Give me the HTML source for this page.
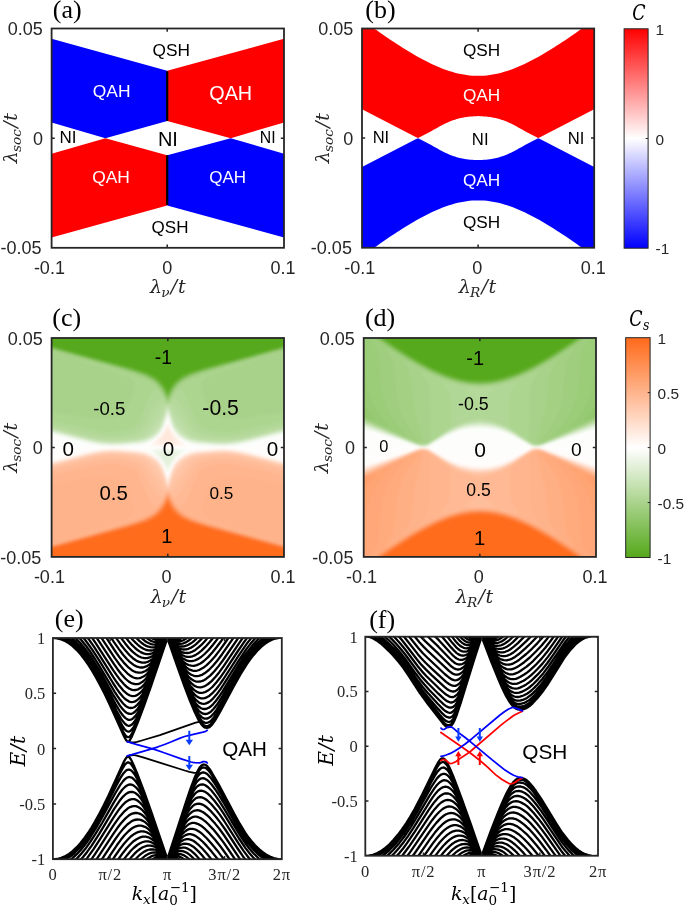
<!DOCTYPE html>
<html lang="en"><head><meta charset="utf-8"><title>Phase diagrams and band structures</title>
<style>html,body{margin:0;padding:0;background:#fff}svg{display:block}</style></head>
<body>
<svg width="685" height="906" viewBox="0 0 685 906">
<defs>
<linearGradient id="gC" x1="0" y1="0" x2="0" y2="1"><stop offset="0" stop-color="#ff0000"/><stop offset="0.5" stop-color="#ffffff"/><stop offset="1" stop-color="#0000ff"/></linearGradient>
<linearGradient id="gS" x1="0" y1="0" x2="0" y2="1"><stop offset="0" stop-color="#ff6a1a"/><stop offset="0.5" stop-color="#ffffff"/><stop offset="1" stop-color="#55a81a"/></linearGradient>
</defs>
<rect width="685" height="906" fill="#fff"/>
<polygon points="51.6,38.75 167.2,70.85 167.2,120.95 105.4,138.15 51.6,122.45" fill="#0000ff"/>
<polygon points="284,38.75 167.2,70.85 167.2,120.95 230.7,138.15 284,122.45" fill="#ff0000"/>
<polygon points="51.6,237.55 167.2,205.45 167.2,155.35 105.4,138.15 51.6,153.85" fill="#ff0000"/>
<polygon points="284,237.55 167.2,205.45 167.2,155.35 230.7,138.15 284,153.85" fill="#0000ff"/>
<path d="M167.2 71.35V120.95M167.2 155.35V204.95" stroke="#000" stroke-width="2.2" fill="none"/>
<rect x="51.6" y="28.5" width="232.4" height="219.3" fill="none" stroke="#262626" stroke-width="1.8"/>
<path d="M167.2 247.8v-3.2M167.2 28.5v3.2M51.6 138.15h3.2M284 138.15h-3.2" stroke="#262626" stroke-width="1.5" fill="none"/>
<text x="171.2" y="55.8" font-size="17.3" text-anchor="middle" font-family="'Liberation Sans', Arial, Helvetica, sans-serif" fill="#000">QSH</text>
<text x="170" y="233.4" font-size="17" text-anchor="middle" font-family="'Liberation Sans', Arial, Helvetica, sans-serif" fill="#000">QSH</text>
<text x="111.6" y="97.3" font-size="17.4" text-anchor="middle" font-family="'Liberation Sans', Arial, Helvetica, sans-serif" fill="#fff">QAH</text>
<text x="230.7" y="99.7" font-size="19.8" text-anchor="middle" font-family="'Liberation Sans', Arial, Helvetica, sans-serif" fill="#fff">QAH</text>
<text x="111" y="183" font-size="17.4" text-anchor="middle" font-family="'Liberation Sans', Arial, Helvetica, sans-serif" fill="#fff">QAH</text>
<text x="227.6" y="183" font-size="17" text-anchor="middle" font-family="'Liberation Sans', Arial, Helvetica, sans-serif" fill="#fff">QAH</text>
<text x="67.9" y="142.9" font-size="17" text-anchor="middle" font-family="'Liberation Sans', Arial, Helvetica, sans-serif" fill="#000">NI</text>
<text x="167.9" y="146" font-size="20" text-anchor="middle" font-family="'Liberation Sans', Arial, Helvetica, sans-serif" fill="#000">NI</text>
<text x="267.7" y="142.5" font-size="15.8" text-anchor="middle" font-family="'Liberation Sans', Arial, Helvetica, sans-serif" fill="#000">NI</text>
<text x="42.9" y="35.4" font-size="18" text-anchor="end" font-family="'Liberation Sans', Arial, Helvetica, sans-serif" fill="#262626">0.05</text>
<text x="42.9" y="145.15" font-size="18" text-anchor="end" font-family="'Liberation Sans', Arial, Helvetica, sans-serif" fill="#262626">0</text>
<text x="41.6" y="254.4" font-size="18" text-anchor="end" font-family="'Liberation Sans', Arial, Helvetica, sans-serif" fill="#262626">-0.05</text>
<text x="49.4" y="273.6" font-size="18" text-anchor="middle" font-family="'Liberation Sans', Arial, Helvetica, sans-serif" fill="#262626">-0.1</text>
<text x="167.2" y="273.6" font-size="18" text-anchor="middle" font-family="'Liberation Sans', Arial, Helvetica, sans-serif" fill="#262626">0</text>
<text x="283" y="273.6" font-size="18" text-anchor="middle" font-family="'Liberation Sans', Arial, Helvetica, sans-serif" fill="#262626">0.1</text>
<text x="167.8" y="293.2" font-size="19" text-anchor="middle" font-family="'DejaVu Serif', 'Liberation Serif', serif" font-style="italic" fill="#262626">λ<tspan font-size="13.68" dy="3.9" dx="-0.9">ν</tspan><tspan dy="-3.9" dx="1.3">/</tspan><tspan dx="0.7">t</tspan></text>
<text transform="translate(17.1 138.15) rotate(-90)" font-size="19" text-anchor="middle" font-family="'DejaVu Serif', 'Liberation Serif', serif" font-style="italic" fill="#262626">λ<tspan font-size="13.68" dy="3.9" dx="-0.9">soc</tspan><tspan dy="-3.9" dx="1.3">/</tspan><tspan dx="0.7">t</tspan></text>
<text x="52.8" y="18" font-size="26" text-anchor="start" font-family="'Liberation Serif', 'Times New Roman', serif" fill="#000">(a)</text>
<polygon points="362,28.5 364.9,28.5 367.81,28.5 370.71,28.5 373.61,28.5 376.51,30.12 379.42,32.17 382.32,34.2 385.22,36.21 388.12,38.19 391.02,40.15 393.93,42.08 396.83,43.99 399.73,45.87 402.63,47.71 405.54,49.52 408.44,51.3 411.34,53.04 414.25,54.73 417.15,56.39 420.05,58 422.95,59.56 425.86,61.07 428.76,62.53 431.66,63.93 434.56,65.27 437.47,66.55 440.37,67.76 443.27,68.9 446.17,69.96 449.07,70.95 451.98,71.85 454.88,72.67 457.78,73.4 460.69,74.05 463.59,74.59 466.49,75.05 469.39,75.4 472.3,75.65 475.2,75.81 478.1,75.86 481,75.81 483.91,75.65 486.81,75.4 489.71,75.05 492.61,74.59 495.52,74.05 498.42,73.4 501.32,72.67 504.22,71.85 507.12,70.95 510.03,69.96 512.93,68.9 515.83,67.76 518.74,66.55 521.64,65.27 524.54,63.93 527.44,62.53 530.35,61.07 533.25,59.56 536.15,58 539.05,56.39 541.96,54.73 544.86,53.04 547.76,51.3 550.66,49.52 553.57,47.71 556.47,45.87 559.37,43.99 562.27,42.08 565.18,40.15 568.08,38.19 570.98,36.21 573.88,34.2 576.79,32.17 579.69,30.12 582.59,28.5 585.49,28.5 588.39,28.5 591.3,28.5 594.2,28.5 594.2,109.12 592.27,110.13 590.33,111.13 588.4,112.13 586.46,113.13 584.53,114.14 582.59,115.14 580.66,116.14 578.72,117.14 576.79,118.14 574.85,119.15 572.92,120.15 570.98,121.15 569.05,122.15 567.11,123.15 565.18,124.16 563.24,125.16 561.31,126.16 559.37,127.16 557.44,128.16 555.5,129.17 553.57,130.17 551.63,131.17 549.7,132.17 547.76,133.17 545.83,134.18 543.89,135.18 541.96,136.18 540.02,137.18 538.09,138.07 536.15,137.08 534.22,136.09 532.28,135.08 530.35,134.06 528.41,133.01 526.48,131.95 524.54,130.88 522.61,129.81 520.67,128.75 518.74,127.65 516.8,126.54 514.87,125.46 512.93,124.43 511,123.48 509.06,122.63 507.12,121.81 505.19,121.03 503.26,120.3 501.32,119.64 499.39,119.06 497.45,118.56 495.52,118.1 493.58,117.68 491.65,117.3 489.71,116.99 487.78,116.75 485.84,116.57 483.91,116.4 481.97,116.26 480.04,116.17 478.1,116.12 476.17,116.17 474.23,116.26 472.3,116.4 470.36,116.57 468.43,116.75 466.49,116.99 464.56,117.3 462.62,117.68 460.69,118.1 458.75,118.56 456.82,119.06 454.88,119.64 452.95,120.3 451.01,121.03 449.08,121.81 447.14,122.63 445.21,123.48 443.27,124.43 441.34,125.46 439.4,126.54 437.47,127.65 435.53,128.75 433.6,129.81 431.66,130.88 429.73,131.95 427.79,133.01 425.86,134.06 423.92,135.08 421.99,136.09 420.05,137.08 418.12,138.07 416.18,137.18 414.25,136.18 412.31,135.18 410.38,134.18 408.44,133.17 406.5,132.17 404.57,131.17 402.63,130.17 400.7,129.17 398.76,128.16 396.83,127.16 394.89,126.16 392.96,125.16 391.02,124.16 389.09,123.15 387.16,122.15 385.22,121.15 383.29,120.15 381.35,119.15 379.42,118.14 377.48,117.14 375.55,116.14 373.61,115.14 371.68,114.14 369.74,113.13 367.81,112.13 365.87,111.13 363.94,110.13 362,109.12" fill="#ff0000"/>
<polygon points="362,247.75 364.9,247.75 367.81,247.75 370.71,247.75 373.61,247.75 376.51,246.13 379.42,244.08 382.32,242.05 385.22,240.04 388.12,238.06 391.02,236.1 393.93,234.17 396.83,232.26 399.73,230.38 402.63,228.54 405.54,226.73 408.44,224.95 411.34,223.21 414.25,221.52 417.15,219.86 420.05,218.25 422.95,216.69 425.86,215.18 428.76,213.72 431.66,212.32 434.56,210.98 437.47,209.7 440.37,208.49 443.27,207.35 446.17,206.29 449.07,205.3 451.98,204.4 454.88,203.58 457.78,202.85 460.69,202.2 463.59,201.66 466.49,201.2 469.39,200.85 472.3,200.6 475.2,200.44 478.1,200.39 481,200.44 483.91,200.6 486.81,200.85 489.71,201.2 492.61,201.66 495.52,202.2 498.42,202.85 501.32,203.58 504.22,204.4 507.12,205.3 510.03,206.29 512.93,207.35 515.83,208.49 518.74,209.7 521.64,210.98 524.54,212.32 527.44,213.72 530.35,215.18 533.25,216.69 536.15,218.25 539.05,219.86 541.96,221.52 544.86,223.21 547.76,224.95 550.66,226.73 553.57,228.54 556.47,230.38 559.37,232.26 562.27,234.17 565.18,236.1 568.08,238.06 570.98,240.04 573.88,242.05 576.79,244.08 579.69,246.13 582.59,247.75 585.49,247.75 588.39,247.75 591.3,247.75 594.2,247.75 594.2,167.12 592.27,166.12 590.33,165.12 588.4,164.12 586.46,163.12 584.53,162.11 582.59,161.11 580.66,160.11 578.72,159.11 576.79,158.11 574.85,157.1 572.92,156.1 570.98,155.1 569.05,154.1 567.11,153.1 565.18,152.09 563.24,151.09 561.31,150.09 559.37,149.09 557.44,148.09 555.5,147.08 553.57,146.08 551.63,145.08 549.7,144.08 547.76,143.08 545.83,142.07 543.89,141.07 541.96,140.07 540.02,139.07 538.09,138.18 536.15,139.17 534.22,140.16 532.28,141.17 530.35,142.19 528.41,143.24 526.48,144.3 524.54,145.37 522.61,146.44 520.67,147.5 518.74,148.6 516.8,149.71 514.87,150.79 512.93,151.82 511,152.77 509.06,153.62 507.12,154.44 505.19,155.22 503.26,155.95 501.32,156.61 499.39,157.19 497.45,157.69 495.52,158.15 493.58,158.57 491.65,158.95 489.71,159.26 487.78,159.5 485.84,159.68 483.91,159.85 481.97,159.99 480.04,160.08 478.1,160.12 476.17,160.08 474.23,159.99 472.3,159.85 470.36,159.68 468.43,159.5 466.49,159.26 464.56,158.95 462.62,158.57 460.69,158.15 458.75,157.69 456.82,157.19 454.88,156.61 452.95,155.95 451.01,155.22 449.08,154.44 447.14,153.62 445.21,152.77 443.27,151.82 441.34,150.79 439.4,149.71 437.47,148.6 435.53,147.5 433.6,146.44 431.66,145.37 429.73,144.3 427.79,143.24 425.86,142.19 423.92,141.17 421.99,140.16 420.05,139.17 418.12,138.18 416.18,139.07 414.25,140.07 412.31,141.07 410.38,142.07 408.44,143.08 406.5,144.08 404.57,145.08 402.63,146.08 400.7,147.08 398.76,148.09 396.83,149.09 394.89,150.09 392.96,151.09 391.02,152.09 389.09,153.1 387.16,154.1 385.22,155.1 383.29,156.1 381.35,157.1 379.42,158.11 377.48,159.11 375.55,160.11 373.61,161.11 371.68,162.11 369.74,163.12 367.81,164.12 365.87,165.12 363.94,166.12 362,167.12" fill="#0000ff"/>
<rect x="362" y="28.5" width="232.2" height="219.25" fill="none" stroke="#262626" stroke-width="1.8"/>
<path d="M478.1 247.75v-3.2M478.1 28.5v3.2M362 138.12h3.2M594.2 138.12h-3.2" stroke="#262626" stroke-width="1.5" fill="none"/>
<text x="481.5" y="56.2" font-size="17.2" text-anchor="middle" font-family="'Liberation Sans', Arial, Helvetica, sans-serif" fill="#000">QSH</text>
<text x="481.5" y="228.3" font-size="17.2" text-anchor="middle" font-family="'Liberation Sans', Arial, Helvetica, sans-serif" fill="#000">QSH</text>
<text x="481.5" y="101.2" font-size="17.2" text-anchor="middle" font-family="'Liberation Sans', Arial, Helvetica, sans-serif" fill="#fff">QAH</text>
<text x="481.5" y="186.4" font-size="17.2" text-anchor="middle" font-family="'Liberation Sans', Arial, Helvetica, sans-serif" fill="#fff">QAH</text>
<text x="380.9" y="142.5" font-size="16.5" text-anchor="middle" font-family="'Liberation Sans', Arial, Helvetica, sans-serif" fill="#000">NI</text>
<text x="480.2" y="144.6" font-size="16.7" text-anchor="middle" font-family="'Liberation Sans', Arial, Helvetica, sans-serif" fill="#000">NI</text>
<text x="576" y="143.9" font-size="16.6" text-anchor="middle" font-family="'Liberation Sans', Arial, Helvetica, sans-serif" fill="#000">NI</text>
<text x="353.2" y="35.4" font-size="18" text-anchor="end" font-family="'Liberation Sans', Arial, Helvetica, sans-serif" fill="#262626">0.05</text>
<text x="353.3" y="145.12" font-size="18" text-anchor="end" font-family="'Liberation Sans', Arial, Helvetica, sans-serif" fill="#262626">0</text>
<text x="351.9" y="254.35" font-size="18" text-anchor="end" font-family="'Liberation Sans', Arial, Helvetica, sans-serif" fill="#262626">-0.05</text>
<text x="359.8" y="273.6" font-size="18" text-anchor="middle" font-family="'Liberation Sans', Arial, Helvetica, sans-serif" fill="#262626">-0.1</text>
<text x="477.3" y="273.6" font-size="18" text-anchor="middle" font-family="'Liberation Sans', Arial, Helvetica, sans-serif" fill="#262626">0</text>
<text x="593.2" y="273.6" font-size="18" text-anchor="middle" font-family="'Liberation Sans', Arial, Helvetica, sans-serif" fill="#262626">0.1</text>
<text x="477.5" y="293.2" font-size="19" text-anchor="middle" font-family="'DejaVu Serif', 'Liberation Serif', serif" font-style="italic" fill="#262626">λ<tspan font-size="13.68" dy="3.9" dx="-0.9">R</tspan><tspan dy="-3.9" dx="1.3">/</tspan><tspan dx="0.7">t</tspan></text>
<text transform="translate(329 138.12) rotate(-90)" font-size="19" text-anchor="middle" font-family="'DejaVu Serif', 'Liberation Serif', serif" font-style="italic" fill="#262626">λ<tspan font-size="13.68" dy="3.9" dx="-0.9">soc</tspan><tspan dy="-3.9" dx="1.3">/</tspan><tspan dx="0.7">t</tspan></text>
<text x="365.3" y="18" font-size="26" text-anchor="start" font-family="'Liberation Serif', 'Times New Roman', serif" fill="#000">(b)</text>
<rect x="624.1" y="28.8" width="24" height="219.4" fill="url(#gC)" stroke="#262626" stroke-width="1"/>
<text x="655.6" y="35" font-size="15.4" text-anchor="start" font-family="'Liberation Sans', Arial, Helvetica, sans-serif" fill="#262626">1</text>
<text x="655.6" y="144.7" font-size="15.4" text-anchor="start" font-family="'Liberation Sans', Arial, Helvetica, sans-serif" fill="#262626">0</text>
<text x="655.6" y="254.4" font-size="15.4" text-anchor="start" font-family="'Liberation Sans', Arial, Helvetica, sans-serif" fill="#262626">-1</text>
<path d="M648.1 138.5h-2.4" stroke="#262626" stroke-width="1" fill="none"/>
<text transform="translate(638.8 19.8) scale(0.9 1)" font-size="21.5" text-anchor="middle" font-family="'DejaVu Serif Condensed', 'DejaVu Serif', 'Liberation Serif', serif" font-style="italic" fill="#000">C</text>
<clipPath id="hc"><rect x="51.6" y="338" width="232.4" height="218.9"/></clipPath>
<filter id="hcb" x="-5%" y="-5%" width="110%" height="110%"><feGaussianBlur stdDeviation="0.9"/></filter>
<g clip-path="url(#hc)"><g filter="url(#hcb)">
<rect x="45.6" y="332" width="244.4" height="230.9" fill="#57a91d"/>
<path fill="#5bab23" fill-rule="evenodd" d="M47.6 345.3l5 .2 38 10.5 43.1 11.3 13.1 4 7 3.1 5 3.3 3.5 3.3 4.5 5.9 1 .8 1-.8 4.5-5.9 3.5-3.3 5-3.3 7-3.1 13.1-4 43.1-11.3 38-10.5 5-.2 0 215.6 -240.4 0z"/>
<path fill="#60ad28" fill-rule="evenodd" d="M47.6 346l4 0 2 .4 77.1 20.9 14.1 4.3 7 2.9 6 3.8 4.8 4.7 4.2 6.1 1 .9 1-.9 4.2-6.1 4.8-4.7 6-3.8 7-2.9 14.1-4.3 77.1-20.9 2-.4 4 0 0 214.9 -240.4 0z"/>
<path fill="#64b02e" fill-rule="evenodd" d="M47.6 346.4l5 .1 77.1 21.1 16.1 5 7 3.2 5 3.3 4.8 4.9 4.2 6.4 1 1 1-1 4.2-6.4 4.8-4.9 5-3.3 7-3.2 16.1-5 77.1-21.1 5-.1 0 214.5 -240.4 0z"/>
<path fill="#68b234" fill-rule="evenodd" d="M47.6 346.7l4 0 76.1 20.7 17.1 5.2 8 3.7 5 3.4 4.2 4.3 2.2 3 2.6 4.5 1 1 1-1 2.6-4.5 2.2-3 4.2-4.3 5-3.4 8-3.7 17.1-5.2 76.1-20.7 4 0 0 214.2 -240.4 0z"/>
<path fill="#6cb439" fill-rule="evenodd" d="M47.6 347l4 0 2 .4 77.1 21.2 15.1 4.8 7 3.3 3 2 2.8 2.3 3.7 4 2.1 3 2.4 4.3 1 1 1-1 2.4-4.3 2.1-3 3.7-4 2.8-2.3 3-2 7-3.3 15.1-4.8 77.1-21.2 2-.4 4 0 0 213.9 -240.4 0z"/>
<path fill="#71b63f" fill-rule="evenodd" d="M47.6 347.2l4 0 78.1 21.4 15.1 4.8 7 3.1 3 1.9 3.3 2.6 4.5 5 4.2 7.1 1 1 1-1 4.2-7.1 4.5-5 3.3-2.6 3-1.9 7-3.1 15.1-4.8 78.1-21.4 4 0 0 213.7 -240.4 0z"/>
<path fill="#75b845" fill-rule="evenodd" d="M47.6 347.4l5 .2 76.1 20.9 16.1 5.2 8 3.8 5 3.6 4.4 4.9 2 3 2.6 4.7 1 1.1 1-1.1 2.6-4.7 2-3 4.4-4.9 5-3.6 8-3.8 16.1-5.2 76.1-20.9 5-.2 0 213.5 -240.4 0z"/>
<path fill="#79ba4b" fill-rule="evenodd" d="M47.6 347.6l4 0 76.1 20.9 10 3 8.1 2.8 7 3.5 5.5 4.2 4.3 5 4.2 7.4 1 1 1-1 4.2-7.4 4.3-5 5.5-4.2 7-3.5 8.1-2.8 10-3 76.1-20.9 4 0 0 213.3 -240.4 0z"/>
<path fill="#7dbd50" fill-rule="evenodd" d="M47.6 347.8l4 0 76.1 20.9 10 3 8.1 2.9 4 1.8 4 2.4 5 4 3.5 4.2 4.5 8 1 1 1-1 4.5-8 3.5-4.2 5-4 4-2.4 4-1.8 8.1-2.9 10-3 76.1-20.9 4 0 0 213.1 -240.4 0z"/>
<path fill="#82bf56" fill-rule="evenodd" d="M47.6 348l4 0 75.1 20.7 10 3 8.1 2.8 7 3.3 3 2 3 2.4 4.1 4.8 2.6 4 2.3 4.5 1 1 1-1 2.3-4.5 2.6-4 4.1-4.8 3-2.4 3-2 7-3.3 8.1-2.8 10-3 75.1-20.7 4 0 0 212.9 -240.4 0z"/>
<path fill="#86c15c" fill-rule="evenodd" d="M47.6 348.2l4 0 75.1 20.7 10 3 8.1 2.8 8 4 5.4 4.3 4.1 5 4.5 8.1 1 1 1-1 4.5-8.1 4.1-5 5.4-4.3 8-4 8.1-2.8 10-3 75.1-20.7 4 0 0 212.7 -240.4 0z"/>
<path fill="#8ac362" fill-rule="evenodd" d="M47.6 348.4l4 0 74.7 20.6 10 3 8.4 3 8 4 5.1 4 4.2 5 4.8 8.7 1 .9 1-.9 4.8-8.7 4.2-5 5.1-4 8-4 8.4-3 10-3 74.7-20.6 4 0 0 212.5 -240.4 0z"/>
<path fill="#8ec567" fill-rule="evenodd" d="M47.6 348.6l4 0 73.9 20.4 10 3 8.5 3 4.5 2 3.7 2 2.9 2 2.7 2.4 4 4.7 2 3.2 3 5.9 1 1 1-1 3-5.9 2-3.2 4-4.7 2.7-2.4 2.9-2 3.7-2 4.5-2 8.5-3 10-3 73.9-20.4 4 0 0 212.3 -240.4 0z"/>
<path fill="#93c86d" fill-rule="evenodd" d="M47.6 348.8l5.3 .2 78.6 22 9.1 3 5.1 2 7.1 3.7 5.2 4.3 3.8 4.6 2.1 3.4 2.9 5.8 1 1 1-1 2.9-5.8 2.1-3.4 3.8-4.6 5.2-4.3 7.1-3.7 5.1-2 9.1-3 78.6-22 5.3-.2 0 212.1 -240.4 0z"/>
<path fill="#97ca73" fill-rule="evenodd" d="M47.6 348.9l4.3 .1 75.3 21 9.7 3 8.1 3 7.7 4 5.1 4.2 4 4.9 5 9.3 1 .9 1-.9 5-9.3 4-4.9 5.1-4.2 7.7-4 8.1-3 9.7-3 75.3-21 4.3-.1 0 212 -240.4 0z"/>
<path fill="#9bcc78" fill-rule="evenodd" d="M47.6 349.2l5 .2 73.7 20.6 9.7 3 8.2 3 7.8 4 2.9 2 2.9 2.6 4 5.1 5 9.3 1 .9 1-.9 5-9.3 4-5.1 2.9-2.6 2.9-2 7.8-4 8.2-3 9.7-3 73.7-20.6 5-.2 0 211.7 -240.4 0z"/>
<path fill="#9fce7e" fill-rule="evenodd" d="M47.6 349.5l4 0 2.3 .5 46.8 13 31 9 8.9 3 5 2 7.3 4 4.9 4.2 4 5.1 5 9.4 1 .8 1-.8 5-9.4 4-5.1 4.9-4.2 7.3-4 5-2 8.9-3 31-9 46.8-13 2.3-.5 4 0 0 211.4 -240.4 0z"/>
<path fill="#a4d084" fill-rule="evenodd" d="M47.6 349.8l5 .2 43.2 12 34.6 10 14 5 7.6 4 2.8 2 3 2.8 4 5.2 4.7 9 1.3 1.1 1.3-1.1 4.7-9 4-5.2 3-2.8 2.8-2 7.6-4 14-5 34.6-10 43.2-12 5-.2 0 211.1 -240.4 0z"/>
<path fill="#a8d28a" fill-rule="evenodd" d="M47.6 350.4l4 0 2.8 .6 67.5 19 12.7 4 8.2 3 8.1 4 2.9 2 3 2.6 4 4.7 2 3.2 3.9 7.5 1.1 .8 1.1-.8 3.9-7.5 2-3.2 4-4.7 3-2.6 2.9-2 8.1-4 8.2-3 12.7-4 67.5-19 2.8-.6 4 0 0 210.5 -240.4 0z"/>
<path fill="#acd58f" fill-rule="evenodd" d="M71.6 358l2.7 0 -.7 .3zM261.3 358l2.7 0 -2 .3zM74.7 359l.9-.2 2.5 .2 .5 .5 3.3 .5 .8 .5 2.9 .5 1.1 .6 2.5 .4 1.5 .7 2.1 .3 .9 .5 2.7 .5 1.3 .6 9.2 2.4 25.9 8 13.7 5 3.9 2 3.1 2 4.3 3.7 4 5.2 5 9 1 .5 1-.5 5-9 4-5.2 4.3-3.7 3.1-2 3.9-2 13.7-5 25.9-8 9.2-2.4 1.3-.6 2.7-.5 .9-.5 2.1-.3 1.5-.7 2.5-.4 1.1-.6 2.9-.5 .8-.5 3.3-.5 .5-.5 2.5-.2 .9 .2 -40 12.7 -11.7 4.3 -3.9 2 -2.5 2 -.8 1 -.7 2 0 3 1.6 5.9 3 9.6 1.8 4.5 1.5 3 2.2 3 2.1 2 3.2 2 3.2 1.2 4 1 5 .6 5 .1 6-.3 13-1.7 30.1-5.5 5-.1 0 149.6 -240.4 0 0-149.6 5 .1 30.1 5.5 13 1.7 6 .3 5-.1 5-.6 4-1 3.2-1.2 3.2-2 2.1-2 2.2-3 1.5-3 1.8-4.5 3-9.6 1.6-5.9 0-3 -.7-2 -.8-1 -2.5-2 -3.9-2 -11.7-4.3z"/>
<path fill="#b0d795" fill-rule="evenodd" d="M47.6 420.1l5 .1 32.3 7.8 9.9 2 6.8 1 6.1 .4 6-.1 6-.5 6-1.3 4-1.4 3-1.7 3-2.4 2-2.6 3.1-5.5 5.4-12.9 2.8-6 3.8-6.5 1-1.2 1-.5 2 .6 3 2.6 3 4.2 3.4 5.8 .6 .7 1 .4 1-.4 .6-.7 4.4-7.3 3-3.7 3-2.1 1-.1 1 .5 2 2.8 3.3 5.9 7.8 18 3.4 6 2.6 2.9 2.8 2.1 4.2 1.9 3.5 1.1 5.5 .9 6 .5 5 0 6.1-.4 6.8-1 9.9-2 32.3-7.8 5-.1 0 140.8 -240.4 0z"/>
<path fill="#b5d99b" fill-rule="evenodd" d="M47.6 424.1l5 .2 35 8.7 15.1 2.7 7 .4 7-.1 6-.6 6-1.2 4-1.1 3-1.4 3.1-1.9 2.9-2.8 3.3-5 6.1-12 3.5-6 4-5 1.2-1 1-.2 1 .3 1 .8 3.2 4.1 1.8 .8 1.8-.8 2.2-2.9 2-2 1-.3 1 .2 1 .8 3 3.5 2.5 3.7 8.3 16 3.3 5 3.2 3 3.2 2 3.6 1.4 5 1.3 6 .9 7 .5 6 0 6-.6 14.1-2.5 35-8.7 5-.2 0 136.8 -240.4 0z"/>
<path fill="#b9dba1" fill-rule="evenodd" d="M47.6 426.4l5 .2 32.7 8.4 9.1 2 7.3 1.1 8 .7 6-.1 8-.6 7.4-1.1 6.6-2.1 3.5-1.9 2.6-2.1 4-4.9 7-11.6 3.1-4.4 4.4-5 1.4-1 1.1-.1 3 .6 4-.6 1 .6 3 3.1 3 3.8 9 14.6 4 4.9 2.6 2.1 3.5 1.9 2.7 1.1 4.3 1 7 1.1 8 .6 6 .1 8-.7 7.3-1.1 9.1-2 32.7-8.4 5-.2 0 134.5 -240.4 0z"/>
<path fill="#bddda6" fill-rule="evenodd" d="M47.6 427.7l5 .2 35.2 9.1 9.6 2 6.8 1 7.5 .3 8-.2 10.8-1.1 4.2-.8 4.6-1.2 2.4-1 3.1-2 2.3-2 4.9-6 9.8-13.8 3.1-5.2 .9-1.1 2-.7 2 .7 .9 1.1 3.1 5.2 9.8 13.8 4.9 6 2.3 2 3.1 2 2.4 1 4.6 1.2 4.2 .8 10.8 1.1 8 .2 7.5-.3 6.8-1 9.6-2 35.2-9.1 5-.2 0 133.2 -240.4 0z"/>
<path fill="#c1dfac" fill-rule="evenodd" d="M47.6 428.5l5 .2 35.9 9.3 9.7 2 6.5 .9 7 .3 9-.2 10.2-1 6.5-1 3.9-1 4.3-2 2.7-2 3.2-3 4.3-5.3 5-7 2-3.6 2.8-7.1 1.2-1.7 1-.4 1 .4 1.2 1.7 2.8 7.1 2 3.6 5 7 4.3 5.3 3.2 3 2.7 2 4.3 2 3.9 1 6.5 1 10.2 1 9 .2 7-.3 6.5-.9 9.7-2 35.9-9.3 5-.2 0 132.4 -240.4 0z"/>
<path fill="#c6e2b2" fill-rule="evenodd" d="M47.6 429.1l5 .2 33.3 8.7 9 2 6.8 1.1 8 .7 7-.1 11.2-.7 8.4-1 5-1 5.2-2 4.4-3 3.2-3 3.7-4.3 3-4.5 2-4.2 3.5-10 .5-.7 1-.6 1 .6 .5 .7 3.5 10 2 4.2 3 4.5 3.7 4.3 3.2 3 4.4 3 5.2 2 5 1 8.4 1 11.2 .7 7 .1 8-.7 6.8-1.1 9-2 33.3-8.7 5-.2 0 131.8 -240.4 0z"/>
<path fill="#cae4b7" fill-rule="evenodd" d="M47.6 429.5l5 .2 35.6 9.3 9.6 2 6.9 1 7 .3 9-.2 12.2-1.1 6.9-1 4.1-1 4.4-2 4.5-3 4-3.9 3-4 2-3.8 2-5.2 2.6-8.1 .4-.8 1-.8 1 .8 .4 .8 2.6 8.1 2 5.2 2 3.8 3 4 4 3.9 4.5 3 4.4 2 4.1 1 6.9 1 12.2 1.1 9 .2 7-.3 6.9-1 9.6-2 35.6-9.3 5-.2 0 131.4 -240.4 0z"/>
<path fill="#cee6bd" fill-rule="evenodd" d="M47.6 430l5 .1 33.9 8.9 9.1 2 8.1 1.2 7 .5 9-.2 15-1.3 6.1-1 4.7-1.2 4.1-2 4.4-3 3.8-3.7 2-2.8 2-3.7 2-5.3 3-9.4 1-1 1 1 3 9.4 2 5.3 2 3.7 2 2.8 3.8 3.7 4.4 3 4.1 2 4.7 1.2 6.1 1 15 1.3 9 .2 7-.5 8.1-1.2 9.1-2 33.9-8.9 5-.1 0 130.9 -240.4 0z"/>
<path fill="#d2e8c3" fill-rule="evenodd" d="M47.6 430.3l5 .2 32.5 8.5 8.8 2 9.8 1.6 7 .5 8-.2 20.6-1.9 4.7-1 4.8-2 4.9-3 4.1-3.8 2-2.7 2-3.6 2-5.2 3-9.7 1-1.2 1 1.2 3 9.7 2 5.2 2 3.6 2 2.7 4.1 3.8 4.9 3 4.8 2 4.7 1 20.6 1.9 8 .2 7-.5 9.8-1.6 8.8-2 32.5-8.5 5-.2 0 130.6 -240.4 0z"/>
<path fill="#d7eac9" fill-rule="evenodd" d="M47.6 430.6l5 .2 35.3 9.2 9.5 2 6.6 1 6.7 .4 9-.2 14.7-1.2 7-1 3.8-1 4.6-2 4.7-3 3.3-3 2-2.7 2-3.5 2-5.1 3-9.7 1-1.4 1 1.4 3 9.7 2 5.1 2 3.5 2 2.7 3.3 3 4.7 3 4.6 2 3.8 1 7 1 14.7 1.2 9 .2 6.7-.4 6.6-1 9.5-2 35.3-9.2 5-.2 0 130.3 -240.4 0z"/>
<path fill="#dbedce" fill-rule="evenodd" d="M47.6 430.9l5 .2 34.1 8.9 9 2 8 1.2 7 .5 9-.2 15-1.3 6.1-.8 5-1.3 4.8-2.1 4.6-3 3.1-3 2.5-3.6 2-4.1 3.9-12.3 1.1-1.6 1.1 1.6 3.9 12.3 2 4.1 2.5 3.6 3.1 3 4.6 3 4.8 2.1 5 1.3 6.1 .8 15 1.3 9 .2 7-.5 8-1.2 9-2 34.1-8.9 5-.2 0 130 -240.4 0z"/>
<path fill="#dfefd4" fill-rule="evenodd" d="M47.6 431.2l5 .2 34.1 8.9 9 2 8 1.2 7 .5 8-.1 21.1-2 4.6-.9 5-2 5.1-3 3.4-3 2.9-3.9 2-4 4-12.5 1-1.4 1 1.4 4 12.5 2 4 2.9 3.9 3.4 3 5.1 3 5 2 4.6 .9 21.1 2 8 .1 7-.5 8-1.2 9-2 34.1-8.9 5-.2 0 129.7 -240.4 0z"/>
<path fill="#e3f1da" fill-rule="evenodd" d="M47.6 431.5l5 .2 33.1 8.6 10 2.3 8 1.2 7 .5 8-.1 13-1 9.1-1.1 4-.9 6-2.5 4.3-2.7 3.3-3 2.4-3.3 2-3.9 4-12.3 1-1.5 1 1.5 4 12.3 2 3.9 2.4 3.3 3.3 3 4.3 2.7 6 2.5 4 .9 9.1 1.1 13 1 8 .1 7-.5 8-1.2 10-2.3 33.1-8.6 5-.2 0 129.4 -240.4 0z"/>
<path fill="#e8f3e0" fill-rule="evenodd" d="M47.6 431.9l5 .1 36.1 9.4 8 1.7 7 1.1 7 .4 9-.1 21.1-2.1 5-1.2 5-2.1 4.9-3.1 3.1-3 2.2-3 1.8-3.5 4-12.1 1-1.6 1 1.6 4 12.1 1.8 3.5 2.2 3 3.1 3 4.9 3.1 5 2.1 5 1.2 21.1 2.1 9 .1 7-.4 7-1.1 8-1.7 36.1-9.4 5-.1 0 129 -240.4 0zM168.8 453.3l-3 .1 -2.1 .5 -1 1 .2 2 3.9 7.2 1 1.3 1-1.3 4.2-8.2 -.2-1.2 -.9-.8z"/>
<path fill="#ecf5e5" fill-rule="evenodd" d="M47.6 432.2l5 .2 35.1 9.1 9 1.9 7 1.1 7 .5 9-.2 21.1-2 5-1.2 5-2.1 4-2.5 3.6-3 2.4-3.1 2.1-3.9 3.9-11.6 1-1.7 1 1.7 3.9 11.6 2.1 3.9 2.4 3.1 3.6 3 4 2.5 5 2.1 5 1.2 21.1 2 9 .2 7-.5 7-1.1 9-1.9 35.1-9.1 5-.2 0 128.7 -240.4 0zM174.8 452.3l-3-.7 -5-.2 -5 .5 -2.1 1 -.3 1 .4 1 4.8 7 2.2 4.3 1 1.3 1-1.3 2.2-4.3 4.8-7 .4-1 -.3-1z"/>
<path fill="#f0f7eb" fill-rule="evenodd" d="M47.6 432.6l5 .2 33.1 8.6 9 2 8 1.3 8 .7 8-.2 21.1-1.8 5-1 5-2 4-2.2 4-3.2 2.6-3 2.4-4 1.6-4 2.4-7.6 1-1.7 1 1.7 2.4 7.6 1.6 4 2.4 4 2.6 3 4 3.2 4 2.2 5 2 5 1 21.1 1.8 8 .2 8-.7 8-1.3 9-2 33.1-8.6 5-.2 0 128.3 -240.4 0zM176.2 450.9l-3.4-.4 -9-.1 -5 .7 -1.7 .8 -.1 1 6.1 8 4.7 8.1 4.7-8.1 5.6-7 .5-1 -.1-1z"/>
<path fill="#f4faf1" fill-rule="evenodd" d="M47.6 433l4 0 36.1 9.3 9 1.9 7 1.1 7 .5 9-.2 21.1-1.9 5-1.2 5-2.1 5-3.2 3-2.7 2.7-3.5 1.6-3 2-5 1.7-5.4 1-1.8 1 1.8 1.7 5.4 2 5 1.6 3 2.7 3.5 3 2.7 5 3.2 5 2.1 5 1.2 21.1 1.9 9 .2 7-.5 7-1.1 9-1.9 36.1-9.3 4 0 0 127.9 -240.4 0zM154.9 450.9l-.2 1 .6 1 4.5 4.8 2.6 3.2 2 3 2.4 5.1 1 1.4 1-1.4 2.4-5.1 2-3 7.7-9 -.2-1 -1.9-.7 -7-.7 -12 .3 -3 .4z"/>
<path fill="#f9fcf6" fill-rule="evenodd" d="M47.6 433.6l4 0 34.1 8.8 9 2 7 1.2 8 .6 8 0 21.1-1.7 6-1.1 5-2 5-3 3-2.4 2.7-3 2.5-4 2.1-5 1.7-5.2 1-1.7 1 1.7 1.7 5.2 2.1 5 2.5 4 2.7 3 3 2.4 5 3 5 2 6 1.1 21.1 1.7 8 0 8-.6 7-1.2 9-2 34.1-8.8 4 0 0 127.3 -240.4 0zM152.7 449.9l-.4 1 .6 1 5.9 5.5 3.7 4.5 1.9 3 2.4 5.4 1 1.4 1-1.4 2.4-5.4 2.6-4 3-3.5 4.9-4.5 1.6-2 -.4-1 -1.1-.3 -8-.8 -14 .1 -4 .4z"/>
<path fill="#fdfefc" fill-rule="evenodd" d="M47.6 434.4l4 0 35.1 9.1 9 2 6 .9 8 .4 10 0 19.1-1.4 5-.9 5-2 5-2.8 4-3.2 2.4-2.5 2.7-4 2.3-5 1.6-4.8 1-1.6 1 1.6 1.6 4.8 2.3 5 2.7 4 2.4 2.5 4 3.2 5 2.8 5 2 5 .9 19.1 1.4 10 0 8-.4 6-.9 9-2 35.1-9.1 4 0 0 126.5 -240.4 0zM149.3 449.9l1.9 2 6.6 5.3 3 3.2 3 4.5 3 6.8 1 1.5 1-1.5 3-6.8 3-4.5 3-3.2 6.6-5.3 1.9-2 -.9-1 -2.6-.4 -15-.4 -15 .4 -2.6 .4z"/>
<path fill="#fffdfc" fill-rule="evenodd" d="M143.3 447l1.1-1 10.4-6.4 5-4.5 3.6-5.1 1.9-4 1.5-4.3 1-1.5 1 1.5 1.5 4.3 1.9 4 3.6 5.1 5 4.5 10.4 6.4 1.1 1 -.5 .4 -48 0zM47.6 447.4l95.2 0 1.6 1.5 9.4 5.7 5.2 4.3 2.5 3 1.9 3 1.9 4 1.5 4.3 1 1.5 1-1.5 1.5-4.3 1.9-4 1.9-3 2.5-3 5.2-4.3 9.4-5.7 1.6-1.5 95.2 0 0 113.5 -240.4 0z"/>
<path fill="#fff9f6" fill-rule="evenodd" d="M149.3 445l1.9-2 6.6-5.3 3-3.2 3-4.5 3-6.8 1-1.5 1 1.5 3 6.8 3 4.5 3 3.2 6.6 5.3 1.9 2 -.9 1 -2.6 .4 -15 .4 -15-.4 -2.6-.4zM47.6 460.5l4 0 35.1-9.1 9-2 6-.9 8-.4 10 0 19.1 1.4 5 .9 5 2 5 2.8 4 3.2 2.4 2.5 2.7 4 2.3 5 1.6 4.8 1 1.6 1-1.6 1.6-4.8 2.3-5 2.7-4 2.4-2.5 4-3.2 5-2.8 5-2 5-.9 19.1-1.4 10 0 8 .4 6 .9 9 2 35.1 9.1 4 0 0 100.4 -240.4 0z"/>
<path fill="#fff6f1" fill-rule="evenodd" d="M152.3 444l1.6-2 4.9-4.5 3-3.5 2.6-4 2.4-5.4 1-1.4 1 1.4 2.4 5.4 2.6 4 3 3.5 4.9 4.5 1.6 2 -.4 1 -3.1 .6 -12 .6 -12-.6 -3.1-.6zM47.6 461.3l4 0 34.1-8.8 9-2 8-1.3 8-.6 8 .1 20.1 1.7 6 1.1 5 2 5 3 3 2.4 2.7 3 2.5 4 2.1 5 1.7 5.2 1 1.7 1-1.7 1.7-5.2 2.1-5 2.5-4 2.7-3 3-2.4 5-3 5-2 6-1.1 20.1-1.7 8-.1 8 .6 8 1.3 9 2 34.1 8.8 4 0 0 99.6 -240.4 0z"/>
<path fill="#fff2eb" fill-rule="evenodd" d="M154.7 443l7.7-9 2-3 2.4-5.1 1-1.4 1 1.4 2.4 5.1 2 3 7.7 9 -.2 1 -2.9 .9 -10 .5 -10-.5 -2.9-.9zM47.6 461.9l4 0 36.1-9.3 9-1.9 7-1.1 7-.5 9 .2 21.1 1.9 5 1.2 5 2.1 5 3.2 3 2.7 2.7 3.5 1.6 3 2 5 1.7 5.4 1 1.8 1-1.8 1.7-5.4 2-5 1.6-3 2.7-3.5 3-2.7 5-3.2 5-2.1 5-1.2 21.1-1.9 9-.2 7 .5 7 1.1 9 1.9 36.1 9.3 4 0 0 99 -240.4 0z"/>
<path fill="#ffeee5" fill-rule="evenodd" d="M157 442l6.1-8 4.7-8.1 4.7 8.1 6.1 8 -.1 1 -2.3 1 -8.4 .6 -8.4-.6 -2.3-1zM47.6 462.3l5-.2 33.1-8.6 9-2 8-1.3 8-.7 8 .2 21.1 1.8 5 1 5 2 4 2.2 4 3.2 2.6 3 2.4 4 1.6 4 2.4 7.6 1 1.7 1-1.7 2.4-7.6 1.6-4 2.4-4 2.6-3 4-3.2 4-2.2 5-2 5-1 21.1-1.8 8-.2 8 .7 8 1.3 9 2 33.1 8.6 5 .2 0 98.6 -240.4 0z"/>
<path fill="#ffebe0" fill-rule="evenodd" d="M167.8 427.4l1 1.3 2.2 4.3 4.8 7 .4 1 -.3 1 -1.1 .6 -3 .7 -5 .2 -5-.5 -2.1-1 -.3-1 .4-1 4.8-7 2.2-4.3zM47.6 462.7l5-.2 35.1-9.1 9-1.9 7-1.1 7-.5 9 .2 21.1 2 5 1.2 5 2.1 4 2.5 3.6 3 2.4 3.1 2.1 3.9 3.9 11.6 1 1.7 1-1.7 3.9-11.6 2.1-3.9 2.4-3.1 3.6-3 4-2.5 5-2.1 5-1.2 21.1-2 9-.2 7 .5 7 1.1 9 1.9 35.1 9.1 5 .2 0 98.2 -240.4 0z"/>
<path fill="#ffe7da" fill-rule="evenodd" d="M167.8 429.5l1 1.3 4.2 8.2 -.2 1.2 -.9 .8 -3.1 .6 -3-.1 -2.1-.5 -1-1 .2-2 3.9-7.2zM47.6 463l5-.1 36.1-9.4 8-1.7 7-1.1 7-.4 9 .1 21.1 2.1 5 1.2 5 2.1 4.9 3.1 3.1 3 2.2 3 1.8 3.5 4 12.1 1 1.6 1-1.6 4-12.1 1.8-3.5 2.2-3 3.1-3 4.9-3.1 5-2.1 5-1.2 21.1-2.1 9-.1 7 .4 7 1.1 8 1.7 36.1 9.4 5 .1 0 97.9 -240.4 0z"/>
<path fill="#ffe3d4" fill-rule="evenodd" d="M47.6 463.4l5-.2 33.1-8.6 10-2.3 8-1.2 7-.5 8 .1 13 1 9.1 1.1 4 .9 6 2.5 4.3 2.7 3.3 3 2.4 3.3 2 3.9 4 12.3 1 1.5 1-1.5 4-12.3 2-3.9 2.4-3.3 3.3-3 4.3-2.7 6-2.5 4-.9 9.1-1.1 13-1 8-.1 7 .5 8 1.2 10 2.3 33.1 8.6 5 .2 0 97.5 -240.4 0z"/>
<path fill="#ffdfce" fill-rule="evenodd" d="M47.6 463.7l5-.2 34.1-8.9 9-2 8-1.2 7-.5 8 .1 21.1 2 4.6 .9 5 2 5.1 3 3.4 3 2.9 3.9 2 4 4 12.5 1 1.4 1-1.4 4-12.5 2-4 2.9-3.9 3.4-3 5.1-3 5-2 4.6-.9 21.1-2 8-.1 7 .5 8 1.2 9 2 34.1 8.9 5 .2 0 97.2 -240.4 0z"/>
<path fill="#ffdcc9" fill-rule="evenodd" d="M47.6 464l5-.2 34.1-8.9 9-2 8-1.2 7-.5 9 .2 15 1.3 6.1 .8 5 1.3 4.8 2.1 4.6 3 3.1 3 2.5 3.6 2 4.1 3.9 12.3 1.1 1.6 1.1-1.6 3.9-12.3 2-4.1 2.5-3.6 3.1-3 4.6-3 4.8-2.1 5-1.3 6.1-.8 15-1.3 9-.2 7 .5 8 1.2 9 2 34.1 8.9 5 .2 0 96.9 -240.4 0z"/>
<path fill="#ffd8c3" fill-rule="evenodd" d="M47.6 464.3l5-.2 35.3-9.2 9.5-2 6.6-1 6.7-.4 9 .2 14.7 1.2 7 1 3.8 1 4.6 2 4.7 3 3.3 3 2 2.7 2 3.5 2 5.1 3 9.7 1 1.4 1-1.4 3-9.7 2-5.1 2-3.5 2-2.7 3.3-3 4.7-3 4.6-2 3.8-1 7-1 14.7-1.2 9-.2 6.7 .4 6.6 1 9.5 2 35.3 9.2 5 .2 0 96.6 -240.4 0z"/>
<path fill="#ffd4bd" fill-rule="evenodd" d="M47.6 464.6l5-.2 32.5-8.5 8.8-2 9.8-1.6 7-.5 8 .2 20.6 1.9 4.7 1 4.8 2 4.9 3 4.1 3.8 2 2.7 2 3.6 2 5.2 3 9.7 1 1.2 1-1.2 3-9.7 2-5.2 2-3.6 2-2.7 4.1-3.8 4.9-3 4.8-2 4.7-1 20.6-1.9 8-.2 7 .5 9.8 1.6 8.8 2 32.5 8.5 5 .2 0 96.3 -240.4 0z"/>
<path fill="#ffd0b7" fill-rule="evenodd" d="M47.6 464.9l5-.1 33.9-8.9 9.1-2 8.1-1.2 7-.5 9 .2 15 1.3 6.1 1 4.7 1.2 4.1 2 4.4 3 3.8 3.7 2 2.8 2 3.7 2 5.3 3 9.4 1 1 1-1 3-9.4 2-5.3 2-3.7 2-2.8 3.8-3.7 4.4-3 4.1-2 4.7-1.2 6.1-1 15-1.3 9-.2 7 .5 8.1 1.2 9.1 2 33.9 8.9 5 .1 0 96 -240.4 0z"/>
<path fill="#ffcdb2" fill-rule="evenodd" d="M47.6 465.4l5-.2 35.6-9.3 9.6-2 6.9-1 7-.3 9 .2 12.2 1.1 6.9 1 4.1 1 4.4 2 4.5 3 4 3.9 3 4 2 3.8 2 5.2 2.6 8.1 .4 .8 1 .8 1-.8 .4-.8 2.6-8.1 2-5.2 2-3.8 3-4 4-3.9 4.5-3 4.4-2 4.1-1 6.9-1 12.2-1.1 9-.2 7 .3 6.9 1 9.6 2 35.6 9.3 5 .2 0 95.5 -240.4 0z"/>
<path fill="#ffc9ac" fill-rule="evenodd" d="M47.6 465.8l5-.2 33.3-8.7 9-2 6.8-1.1 8-.7 7 .1 11.2 .7 8.4 1 5 1 5.2 2 4.4 3 3.2 3 3.7 4.3 3 4.5 2 4.2 3.5 10 .5 .7 1 .6 1-.6 .5-.7 3.5-10 2-4.2 3-4.5 3.7-4.3 3.2-3 4.4-3 5.2-2 5-1 8.4-1 11.2-.7 7-.1 8 .7 6.8 1.1 9 2 33.3 8.7 5 .2 0 95.1 -240.4 0z"/>
<path fill="#ffc5a6" fill-rule="evenodd" d="M47.6 466.4l5-.2 35.9-9.3 9.7-2 6.5-.9 7-.3 9 .2 10.2 1 6.5 1 3.9 1 4.3 2 2.7 2 3.2 3 4.3 5.3 5 7 2 3.6 2.8 7.1 1.2 1.7 1 .4 1-.4 1.2-1.7 2.8-7.1 2-3.6 5-7 4.3-5.3 3.2-3 2.7-2 4.3-2 3.9-1 6.5-1 10.2-1 9-.2 7 .3 6.5 .9 9.7 2 35.9 9.3 5 .2 0 94.5 -240.4 0z"/>
<path fill="#ffc2a1" fill-rule="evenodd" d="M47.6 467.2l5-.2 35.2-9.1 9.6-2 6.8-1 7.5-.3 8 .2 10.8 1.1 4.2 .8 4.6 1.2 2.4 1 3.1 2 2.3 2 4.9 6 9.8 13.8 3.1 5.2 .9 1.1 2 .7 2-.7 .9-1.1 3.1-5.2 9.8-13.8 4.9-6 2.3-2 3.1-2 2.4-1 4.6-1.2 4.2-.8 10.8-1.1 8-.2 7.5 .3 6.8 1 9.6 2 35.2 9.1 5 .2 0 93.7 -240.4 0z"/>
<path fill="#ffbe9b" fill-rule="evenodd" d="M47.6 468.5l5-.2 32.7-8.4 9.1-2 7.3-1.1 8-.7 6 .1 8 .6 7.4 1.1 6.6 2.1 3.5 1.9 2.6 2.1 4 4.9 7 11.6 3.1 4.4 4.4 5 1.4 1 1.1 .1 3-.6 4 .6 1-.6 3-3.1 3-3.8 9-14.6 4-4.9 2.6-2.1 3.5-1.9 2.7-1.1 4.3-1 7-1.1 8-.6 6-.1 8 .7 7.3 1.1 9.1 2 32.7 8.4 5 .2 0 92.4 -240.4 0z"/>
<path fill="#ffba95" fill-rule="evenodd" d="M47.6 470.8l5-.2 35-8.7 15.1-2.7 7-.4 7 .1 6 .6 6 1.2 4 1.1 3 1.4 3.1 1.9 2.9 2.8 3.3 5 6.1 12 3.5 6 4 5 1.2 1 1 .2 1-.3 1-.8 3.2-4.1 1.8-.8 1.8 .8 2.2 2.9 2 2 1 .3 1-.2 1-.8 3-3.5 2.5-3.7 8.3-16 3.3-5 3.2-3 3.2-2 3.6-1.4 5-1.3 6-.9 7-.5 6 0 6 .6 14.1 2.5 35 8.7 5 .2 0 90.1 -240.4 0z"/>
<path fill="#ffb68f" fill-rule="evenodd" d="M47.6 474.8l5-.1 32.3-7.8 9.9-2 6.8-1 6.1-.4 6 .1 6 .5 6 1.3 4 1.4 3 1.7 3 2.4 2 2.6 3.1 5.5 5.4 12.9 2.8 6 3.8 6.5 1 1.2 1 .5 2-.6 3-2.6 3-4.2 3.4-5.8 .6-.7 1-.4 1 .4 .6 .7 4.4 7.3 3 3.7 3 2.1 1 .1 1-.5 2-2.8 3.3-5.9 7.8-18 3.4-6 2.6-2.9 2.8-2.1 4.2-1.9 3.5-1.1 5.5-.9 6-.5 5 0 6.1 .4 6.8 1 9.9 2 32.3 7.8 5 .1 0 86.1 -240.4 0z"/>
<path fill="#ffb38a" fill-rule="evenodd" d="M47.6 483.6l5-.1 18.6-3.6 18.5-2.9 8-.8 7-.2 8 .9 6.2 2 1.8 1 2.6 2 1.7 2 2 3 2.9 7 4.2 14 .2 4 -.7 2 -.8 1 -4.3 3 -7.2 3 -46.6 15 .9 .2 2.5-.2 .5-.5 7-1.5 1.1-.6 2.5-.4 1.5-.7 2.1-.3 .9-.5 2.7-.5 1.3-.6 2.2-.4 11.8-3.6 2-.4 1-.5 2.3-.5 18.8-6 10.7-4 3.9-2 3.1-2 4.3-3.7 4-5.2 5-9 1-.5 1 .5 5 9 4 5.2 4.3 3.7 3.1 2 3.9 2 13.7 5 25.9 8 9.2 2.4 1.3 .6 2.7 .5 .9 .5 2.1 .3 1.5 .7 2.5 .4 1.1 .6 2.9 .5 .8 .5 3.3 .5 .5 .5 2.5 .2 .9-.2 -46.6-15 -7.2-3 -4.3-3 -.8-1 -.7-2 .2-4 4.2-14 2.9-7 2-3 1.7-2 2.6-2 1.8-1 6.2-2 8-.9 7 .2 8 .8 18.5 2.9 18.6 3.6 5 .1 0 77.3 -240.4 0zM261.3 536.9l2.7 0 -2-.3zM71.6 536.9l2.7 0 -.7-.3z"/>
<path fill="#ffaf84" fill-rule="evenodd" d="M47.6 544.5l4 0 2.8-.6 67.5-19 12.7-4 8.2-3 8.1-4 2.9-2 3-2.6 4-4.7 2-3.2 3.9-7.5 1.1-.8 1.1 .8 3.9 7.5 2 3.2 4 4.7 3 2.6 2.9 2 8.1 4 8.2 3 12.7 4 67.5 19 2.8 .6 4 0 0 16.4 -240.4 0z"/>
<path fill="#ffab7e" fill-rule="evenodd" d="M47.6 545.1l5-.2 43.2-12 34.6-10 14-5 7.6-4 2.8-2 3-2.8 4-5.2 4.7-9 1.3-1.1 1.3 1.1 4.7 9 4 5.2 3 2.8 2.8 2 7.6 4 14 5 34.6 10 43.2 12 5 .2 0 15.8 -240.4 0z"/>
<path fill="#ffa778" fill-rule="evenodd" d="M47.6 545.4l4 0 2.3-.5 46.8-13 31-9 8.9-3 5-2 7.3-4 4.9-4.2 4-5.1 5-9.4 1-.8 1 .8 5 9.4 4 5.1 4.9 4.2 7.3 4 5 2 8.9 3 31 9 46.8 13 2.3 .5 4 0 0 15.5 -240.4 0z"/>
<path fill="#ffa473" fill-rule="evenodd" d="M47.6 545.7l5-.2 73.7-20.6 9.7-3 8.2-3 7.8-4 2.9-2 2.9-2.6 4-5.1 5-9.3 1-.9 1 .9 5 9.3 4 5.1 2.9 2.6 2.9 2 7.8 4 8.2 3 9.7 3 73.7 20.6 5 .2 0 15.2 -240.4 0z"/>
<path fill="#ffa06d" fill-rule="evenodd" d="M47.6 546l5-.3 74.6-20.8 9.7-3 8.1-3 7.7-4 5.1-4.2 4-4.9 5-9.3 1-.9 1 .9 5 9.3 4 4.9 5.1 4.2 7.7 4 8.1 3 9.7 3 75.3 21 4.3 .1 0 14.9 -240.4 0z"/>
<path fill="#ff9c67" fill-rule="evenodd" d="M47.6 546.1l5.3-.2 78.6-22 9.1-3 5.1-2 7.1-3.7 5.2-4.3 3.8-4.6 2.1-3.4 2.9-5.8 1-1 1 1 2.9 5.8 2.1 3.4 3.8 4.6 5.2 4.3 7.1 3.7 5.1 2 9.1 3 78.6 22 5.3 .2 0 14.8 -240.4 0z"/>
<path fill="#ff9962" fill-rule="evenodd" d="M47.6 546.3l4 0 73.9-20.4 10-3 8.5-3 4.5-2 3.7-2 2.9-2 2.7-2.4 4-4.7 2-3.2 3-5.9 1-1 1 1 3 5.9 2 3.2 4 4.7 2.7 2.4 2.9 2 3.7 2 4.5 2 8.5 3 10 3 73.9 20.4 4 0 0 14.6 -240.4 0z"/>
<path fill="#ff955c" fill-rule="evenodd" d="M47.6 546.5l4 0 74.7-20.6 10-3 8.4-3 8-4 5.1-4 4.2-5 4.8-8.7 1-.9 1 .9 4.8 8.7 4.2 5 5.1 4 8 4 8.4 3 10 3 74.7 20.6 4 0 0 14.4 -240.4 0z"/>
<path fill="#ff9156" fill-rule="evenodd" d="M47.6 546.7l4 0 75.1-20.7 10-3 8.1-2.8 8-4 5.4-4.3 4.1-5 4.5-8.1 1-1 1 1 4.5 8.1 4.1 5 5.4 4.3 8 4 8.1 2.8 10 3 75.1 20.7 4 0 0 14.2 -240.4 0z"/>
<path fill="#ff8d50" fill-rule="evenodd" d="M47.6 546.9l4 0 75.1-20.7 10-3 8.1-2.8 7-3.3 3-2 3-2.4 4.1-4.8 2.6-4 2.3-4.5 1-1 1 1 2.3 4.5 2.6 4 4.1 4.8 3 2.4 3 2 7 3.3 8.1 2.8 10 3 75.1 20.7 4 0 0 14 -240.4 0z"/>
<path fill="#ff8a4b" fill-rule="evenodd" d="M47.6 547.1l4 0 76.1-20.9 10-3 8.1-2.9 4-1.8 4-2.4 5-4 3.5-4.2 4.5-8 1-1 1 1 4.5 8 3.5 4.2 5 4 4 2.4 4 1.8 8.1 2.9 10 3 76.1 20.9 4 0 0 13.8 -240.4 0z"/>
<path fill="#ff8645" fill-rule="evenodd" d="M47.6 547.3l4 0 76.1-20.9 10-3 8.1-2.8 7-3.5 5.5-4.2 4.3-5 4.2-7.4 1-1 1 1 4.2 7.4 4.3 5 5.5 4.2 7 3.5 8.1 2.8 10 3 76.1 20.9 4 0 0 13.6 -240.4 0z"/>
<path fill="#ff823f" fill-rule="evenodd" d="M47.6 547.5l5-.2 76.1-20.9 16.1-5.2 8-3.8 5-3.6 4.4-4.9 2-3 2.6-4.7 1-1.1 1 1.1 2.6 4.7 2 3 4.4 4.9 5 3.6 8 3.8 16.1 5.2 76.1 20.9 5 .2 0 13.4 -240.4 0z"/>
<path fill="#ff7e39" fill-rule="evenodd" d="M47.6 547.7l4 0 78.1-21.4 15.1-4.8 7-3.1 3-1.9 3.3-2.6 4.5-5 4.2-7.1 1-1 1 1 4.2 7.1 4.5 5 3.3 2.6 3 1.9 7 3.1 15.1 4.8 78.1 21.4 4 0 0 13.2 -240.4 0z"/>
<path fill="#ff7b34" fill-rule="evenodd" d="M47.6 547.9l4 0 2-.4 77.1-21.2 15.1-4.8 7-3.3 3-2 2.8-2.3 3.7-4 2.1-3 2.4-4.3 1-1 1 1 2.4 4.3 2.1 3 3.7 4 2.8 2.3 3 2 7 3.3 15.1 4.8 77.1 21.2 2 .4 4 0 0 13 -240.4 0z"/>
<path fill="#ff772e" fill-rule="evenodd" d="M47.6 548.2l4 0 76.1-20.7 17.1-5.2 8-3.7 5-3.4 4.2-4.3 2.2-3 2.6-4.5 1-1 1 1 2.6 4.5 2.2 3 4.2 4.3 5 3.4 8 3.7 17.1 5.2 76.1 20.7 4 0 0 12.7 -240.4 0z"/>
<path fill="#ff7328" fill-rule="evenodd" d="M47.6 548.5l5-.1 77.1-21.1 16.1-5 7-3.2 5-3.3 4.8-4.9 4.2-6.4 1-1 1 1 4.2 6.4 4.8 4.9 5 3.3 7 3.2 16.1 5 77.1 21.1 5 .1 0 12.4 -240.4 0z"/>
<path fill="#ff7023" fill-rule="evenodd" d="M47.6 548.9l4 0 2-.4 77.1-20.9 14.1-4.3 7-2.9 6-3.8 4.8-4.7 4.2-6.1 1-.9 1 .9 4.2 6.1 4.8 4.7 6 3.8 7 2.9 14.1 4.3 77.1 20.9 2 .4 4 0 0 12 -240.4 0z"/>
<path fill="#ff6c1d" fill-rule="evenodd" d="M47.6 549.6l5-.2 38-10.5 43.1-11.3 13.1-4 7-3.1 5-3.3 3.5-3.3 4.5-5.9 1-.8 1 .8 4.5 5.9 3.5 3.3 5 3.3 7 3.1 13.1 4 43.1 11.3 38 10.5 5 .2 0 11.3 -240.4 0z"/>
</g></g>
<rect x="51.6" y="338" width="232.4" height="218.9" fill="none" stroke="#262626" stroke-width="1.8"/>
<path d="M167.8 556.9v-3.2M167.8 338v3.2M51.6 447.45h3.2M284 447.45h-3.2" stroke="#262626" stroke-width="1.5" fill="none"/>
<text x="42.8" y="344.9" font-size="18" text-anchor="end" font-family="'Liberation Sans', Arial, Helvetica, sans-serif" fill="#262626">0.05</text>
<text x="42.8" y="454.45" font-size="18" text-anchor="end" font-family="'Liberation Sans', Arial, Helvetica, sans-serif" fill="#262626">0</text>
<text x="41.3" y="563.7" font-size="18" text-anchor="end" font-family="'Liberation Sans', Arial, Helvetica, sans-serif" fill="#262626">-0.05</text>
<text x="49.4" y="582.8" font-size="18" text-anchor="middle" font-family="'Liberation Sans', Arial, Helvetica, sans-serif" fill="#262626">-0.1</text>
<text x="166.6" y="582.9" font-size="18" text-anchor="middle" font-family="'Liberation Sans', Arial, Helvetica, sans-serif" fill="#262626">0</text>
<text x="283" y="582.8" font-size="18" text-anchor="middle" font-family="'Liberation Sans', Arial, Helvetica, sans-serif" fill="#262626">0.1</text>
<clipPath id="hd"><rect x="363.7" y="338" width="232.3" height="218.9"/></clipPath>
<filter id="hdb" x="-5%" y="-5%" width="110%" height="110%"><feGaussianBlur stdDeviation="0.9"/></filter>
<g clip-path="url(#hd)"><g filter="url(#hdb)">
<rect x="357.7" y="332" width="244.3" height="230.9" fill="#57a91d"/>
<path fill="#5bab23" fill-rule="evenodd" d="M359.7 334l25.7 0 0 4 2.5 2 12 8 12.7 8 10.5 6 9.7 5 11.5 5 11.9 4 8.7 2 7.3 1 7.6 .3 7.7-.3 7.3-1 8.7-2 11.9-4 11.5-5 9.7-5 10.5-6 12.7-8 12-8 2.5-2 0-4 25.7 0 0 226.9 -240.3 0z"/>
<path fill="#60ad28" fill-rule="evenodd" d="M359.7 334l24.2 0 0 4 4 3 11.9 8 12.8 8 10.5 6 9.7 5 11.4 5 11.9 4 8.8 2 7.9 1 7 .3 7.1-.3 7.9-1 8.8-2 11.9-4 11.4-5 9.7-5 10.5-6 12.8-8 11.9-8 4-3 0-4 24.2 0 0 226.9 -240.3 0z"/>
<path fill="#64b02e" fill-rule="evenodd" d="M359.7 334l23.3 0 0 4 2.5 2 13.3 9 11.1 7 12 7 9.6 5 13.7 6 12.3 4 9.6 2 12.7 1 12.8-1 9.6-2 12.3-4 13.7-6 9.6-5 12-7 11.1-7 13.3-9 2.5-2 0-4 23.3 0 0 226.9 -240.3 0z"/>
<path fill="#68b234" fill-rule="evenodd" d="M359.7 334l22.6 0 0 4 2.4 2 14.9 10 11.1 7 12.1 7 9.7 5 11.4 5 11.8 4 8.6 2 5.5 .8 10 .6 10.1-.6 5.5-.8 8.6-2 11.8-4 11.4-5 9.7-5 12.1-7 11.1-7 14.9-10 2.4-2 0-4 22.6 0 0 226.9 -240.3 0z"/>
<path fill="#6cb439" fill-rule="evenodd" d="M359.7 334l22 0 0 4 2.4 2 11.8 8 14.1 9 12.1 7 9.6 5 13.8 6 12.5 4 10 2 11.8 .8 11.9-.8 10-2 12.5-4 13.8-6 9.6-5 12.1-7 14.1-9 11.8-8 2.4-2 0-4 22 0 0 226.9 -240.3 0z"/>
<path fill="#71b63f" fill-rule="evenodd" d="M359.7 334l21.5 0 0 4 2.3 2 24.2 16 11.9 7 11.4 6 13.6 6 12.1 4 11.1 2.3 6.6 .7 5.4 .1 5.5-.1 6.6-.7 11.1-2.3 12.1-4 13.6-6 11.4-6 11.9-7 24.2-16 2.3-2 0-4 21.5 0 0 226.9 -240.3 0z"/>
<path fill="#75b845" fill-rule="evenodd" d="M359.7 334l21 0 0 4 3.8 3 13.3 9 12.7 8 10.3 6 11.6 6 11.3 5 12.1 4.1 8.3 1.9 4.7 .7 11 .7 11.1-.7 4.7-.7 8.3-1.9 12.1-4.1 11.3-5 11.6-6 10.3-6 12.7-8 13.3-9 3.8-3 0-4 21 0 0 226.9 -240.3 0z"/>
<path fill="#79ba4b" fill-rule="evenodd" d="M359.7 334l20.5 0 0 4 2.3 2 13.3 9 14.2 9 12.1 7 9.6 5 13.9 6 12.6 4 10.6 2 11 .7 11.1-.7 10.6-2 12.6-4 13.9-6 9.6-5 12.1-7 14.2-9 13.3-9 2.3-2 0-4 20.5 0 0 226.9 -240.3 0z"/>
<path fill="#7dbd50" fill-rule="evenodd" d="M359.7 334l20.1 0 0 4 2.3 2 13.2 9 12.5 8 12 7 11.3 6 13.7 6 12.4 4 10.6 2.2 6 .6 6 .2 6.1-.2 6-.6 10.6-2.2 12.4-4 13.7-6 11.3-6 12-7 12.5-8 13.2-9 2.3-2 0-4 20.1 0 0 226.9 -240.3 0z"/>
<path fill="#82bf56" fill-rule="evenodd" d="M359.7 334l19.7 0 0 4 2.3 2.1 15 10.2 11.1 7 12 7 11 5.8 13.3 5.9 12.1 4 11.6 2.4 6 .7 6 .2 6.1-.2 6-.7 11.6-2.4 12.1-4 13.3-5.9 11-5.8 12-7 11.1-7 15-10.2 2.3-2.1 0-4 19.7 0 0 226.9 -240.3 0z"/>
<path fill="#86c15c" fill-rule="evenodd" d="M359.7 334l19.2 0 0 4 2.8 2.4 13 8.8 14.1 9 12 7 10 5.2 13 5.7 12 4 12 2.6 6 .6 6 .2 6.1-.2 6-.6 12-2.6 12-4 13-5.7 10-5.2 12-7 14.1-9 13-8.8 2.8-2.4 0-4 19.2 0 0 226.9 -240.3 0z"/>
<path fill="#8ac362" fill-rule="evenodd" d="M359.7 334l18.8 0 0 4 .8 1 16.4 11.2 13.1 8.3 10 5.8 11 5.9 14 6.2 12 4 7 1.7 6 1 11 .7 11.1-.7 6-1 7-1.7 12-4 14-6.2 11-5.9 10-5.8 13.1-8.3 16.4-11.2 .8-1 0-4 18.8 0 0 226.9 -240.3 0z"/>
<path fill="#8ec567" fill-rule="evenodd" d="M359.7 334l18.3 0 0 4 .8 1 13.9 9.6 14.1 9 12 7 11 5.9 11 5 11 4 10 2.6 9 1.5 9 .4 9.1-.4 9-1.5 10-2.6 11-4 11-5 11-5.9 12-7 14.1-9 13.9-9.6 .8-1 0-4 18.3 0 0 226.9 -240.3 0z"/>
<path fill="#93c86d" fill-rule="evenodd" d="M359.7 334l17.8 0 0 4 .8 1 13.4 9.3 14.1 9 12 7.1 11 5.9 11 5 11 4.2 10 2.7 9 1.5 10 .6 10.1-.6 9-1.5 10-2.7 11-4.2 11-5 11-5.9 12-7.1 14.1-9 13.4-9.3 .8-1 0-4 17.8 0 0 226.9 -240.3 0z"/>
<path fill="#97ca73" fill-rule="evenodd" d="M359.7 334l17.1 0 0 4 .8 1 12.1 8.4 14.1 9 12 7.2 13 7 11 5 10 3.8 11 3.1 10 1.6 9 .5 9.1-.5 10-1.6 11-3.1 10-3.8 11-5 13-7 12-7.2 14.1-9 12.1-8.4 .8-1 0-4 17.1 0 0 71.8 -4 0 -11.7 14.2 .7 .2 1.7-.2 9.3-3.5 4 0 0 144.4 -240.3 0 0-144.4 4 0 9.3 3.5 1.7 .2 .7-.2 -11.7-14.2 -4 0z"/>
<path fill="#9bcc78" fill-rule="evenodd" d="M359.7 334l16.3 0 0 4 .8 1 10.9 7.6 17.1 10.9 12 7 11 5.9 11 5.1 10 3.9 11 3.1 11 1.9 9 .4 9.1-.4 11-1.9 11-3.1 10-3.9 11-5.1 11-5.9 12-7 17.1-10.9 10.9-7.6 .8-1 0-4 16.3 0 0 22.8 -4 0 -1.3 15.2 -1 8 -1.3 7 -1.9 7 -3.1 8 -4.4 8 -5.6 8 -8.5 10 2.1 0 24-10.3 1-.2 4 0 0 143.4 -240.3 0 0-143.4 4 0 22.3 9.5 2.7 1 2.1 0 -8.5-10 -5.6-8 -4.4-8 -3.1-8 -1.9-7 -1.3-7 -1-8 -1.3-15.2 -4 0z"/>
<path fill="#9fce7e" fill-rule="evenodd" d="M369.9 334l4.4 0 0 4 .8 1 20.6 13.4 15.1 9.2 12 6.6 10 5 12 5.1 13 4.1 11 2.1 11 .6 11.1-.6 11-2.1 13-4.1 12-5.1 10-5 12-6.6 15.1-9.2 20.6-13.4 .8-1 0-4 4.4 0 0 4 -5.6 9 -1.4 3 -1.2 4 -.9 6 -1 17 -1.1 10 -1.7 9 -2.4 8 -3.5 8 -4.1 7 -5.1 7 -8.6 10 1.9 0 5.1-2 34.8-15.5 1-.3 4 0 0 142.7 -240.3 0 0-142.7 4 0 1 .3 34.8 15.5 5.1 2 1.9 0 -8.6-10 -5.1-7 -4.1-7 -3.5-8 -2.4-8 -1.7-9 -1.1-10 -1-17 -.9-6 -1.2-4 -1.4-3 -5.6-9z"/>
<path fill="#a4d084" fill-rule="evenodd" d="M385.7 348.4l2 .5 4.1 2.1 18 10.6 14 7.7 9 4.4 9 3.9 11 3.8 8 2 8 1.4 11 .7 11.1-.7 8-1.4 8-2 11-3.8 9-3.9 9-4.4 14-7.7 18-10.6 4.1-2.1 2-.5 .2 .6 -6.4 10 -2.2 6 -.8 5 -1.1 16 -1 9 -1.5 8 -2.3 8 -2.9 7 -3.3 6 -3.9 6 -6.8 9 -1 2 .4 1 .5 0 1.1 0 2.9-1 48.1-21.5 2-.7 4 0 0 142.1 -240.3 0 0-142.1 4 0 2 .7 48.1 21.5 2.9 1 1.1 0 .5 0 .4-1 -1-2 -6.8-9 -3.9-6 -3.3-6 -2.9-7 -2.3-8 -1.5-8 -1-9 -1.1-16 -.8-5 -2.2-6 -6.4-10z"/>
<path fill="#a8d28a" fill-rule="evenodd" d="M402.6 360l1.2 0 2.4 1 16.6 8.5 10 4.8 8 3.4 8 2.9 7 2.1 9 1.9 7 .9 8 .3 8.1-.3 7-.9 9-1.9 7-2.1 8-2.9 8-3.4 10-4.8 16.6-8.5 2.4-1 1.2 0 -.3 1 -5.9 9 -2 5 -1 5 -1.5 18 -1.4 10 -2.2 9 -4.9 15.7 -1.8 8.3 .3 1 1.4 1 2.1 .2 2.2-.2 9.7-4 43.2-19.4 1-.2 4 0 0 141.5 -240.3 0 0-141.5 4 0 1 .2 43.2 19.4 9.7 4 2.2 .2 2.1-.2 1.4-1 .3-1 -1.8-8.3 -4.9-15.7 -2.2-9 -1.4-10 -1.5-18 -1-5 -2-5 -5.9-9z"/>
<path fill="#acd58f" fill-rule="evenodd" d="M359.7 419.9l4 0 2 .6 50.9 22.5 4.2 .9 5.4-.9 3.2-2 1.4-2 -1-47 -.6-5 -1.2-4 -2-4 -4.9-7 .4-1 3.5 1 18.8 7.6 13 3.9 11 2.1 12 .7 12.1-.7 11-2.1 13-3.9 18.8-7.6 3.5-1 .4 1 -4.3 6 -2.2 4 -1.4 4 -.6 4 -1.2 49 .5 1 2.1 2 2 1 4.4 .8 2 0 3.2-.8 50.9-22.5 2-.6 4 0 0 141 -240.3 0z"/>
<path fill="#b0d795" fill-rule="evenodd" d="M359.7 420.3l4 0 1 .3 44.1 19.4 9.9 4 3.1 .2 3-.2 3.3-1 4.7-3 8-6 8.4-7 1.3-2 0-20 -.8-9 -.9-3 -1.4-3 -6.4-8 .1-1 .7-.1 21 4.7 8 1 9 .3 9.1-.3 8-1 10-2.1 9.9-2.5 1.8 0 .1 1 -6.4 8 -1.4 3 -.9 3 -.8 9 0 20 .4 1 2 2 11.2 9 7.1 5 2 1.1 2.5 .9 5.5 .1 3.9-1.1 51.2-22.4 1-.3 4 0 0 140.6 -240.3 0z"/>
<path fill="#b5d99b" fill-rule="evenodd" d="M465 389l1.8-.7 25.1-.1 2 .3 .8 .5 -.7 1 -6.8 5 -3 3 -1.9 3 -2.5 5.7 -2.4-5.7 -1.9-3 -3-3 -6.8-5zM359.7 420.8l4 0 1 .3 50.7 21.9 3.4 1.1 3 .5 5-.6 2.1-1 8.9-6 9-6.6 10-5.9 5-2.1 6-2.1 10-2.3 2-.8 2.1 .8 10 2.3 6 2.1 5 2.1 10 5.9 9 6.6 8.9 6 2.1 1 4 .5 4-.4 3.4-1.1 50.7-21.9 1-.3 4 0 0 140.1 -240.3 0z"/>
<path fill="#b9dba1" fill-rule="evenodd" d="M359.7 421.2l4 0 1 .3 53.1 22.5 4 .9 3-.2 3-.8 9.2-5.9 10.8-7.6 9-5 8-3 4-1 6-.9 5-.4 6.1 .5 6 1 9 2.9 6 2.9 5 3 10.8 7.6 9.2 5.9 2 .6 3 .4 4-.6 3.9-1.3 50.2-21.5 1-.3 4 0 0 139.7 -240.3 0z"/>
<path fill="#bddda6" fill-rule="evenodd" d="M359.7 421.7l4 0 50.8 21.3 5.3 1.8 3 .3 2.3-.1 3-1 7.9-5 10.8-7.5 9-5 8-3.1 4-1 5-.9 7-.5 6.1 .4 6 1 7 2 5 2.1 7 3.7 20.7 13.8 3 1 2.3 .1 3-.3 5.3-1.8 50.8-21.3 4 0 0 139.2 -240.3 0z"/>
<path fill="#c1dfac" fill-rule="evenodd" d="M359.7 422.1l4 0 53 21.9 3.1 1 3 .3 3-.3 2.7-1 19.3-12.8 7-3.8 8-3.1 9-2 7-.7 5.1 .2 7 .9 9 2.6 5 2.1 6 3.2 20.3 13.4 2.7 1 3 .3 3-.3 3.1-1 53-21.9 4 0 0 138.8 -240.3 0z"/>
<path fill="#c6e2b2" fill-rule="evenodd" d="M359.7 422.5l4 0 52.6 21.5 3.5 1.1 3 .4 4-.5 2-1 19-12.4 8-4.2 8-2.9 4-1.1 5-.8 7-.5 6.1 .4 6 .9 8 2.3 6 2.6 6 3.3 19 12.4 2 1 4 .5 3-.4 3.5-1.1 52.6-21.5 4 0 0 138.4 -240.3 0z"/>
<path fill="#cae4b7" fill-rule="evenodd" d="M359.7 423l4 0 52.2 21 3.9 1.3 3 .4 3-.3 3-1.3 18-11.6 9-4.8 7-2.5 8-1.8 8-.8 5.1 .2 7 .9 9 2.4 5 2.1 6 3.1 21 13.4 2 .7 3 .3 3-.4 3.9-1.3 52.2-21 4 0 0 137.9 -240.3 0z"/>
<path fill="#cee6bd" fill-rule="evenodd" d="M359.7 423.4l4 0 52.1 20.6 4 1.4 3 .4 3-.3 2-.6 19-12.1 8-4.2 8-3 5-1.3 4-.6 7-.6 6.1 .3 7 .9 8 2.2 5 2.1 6 3 21 13.3 2 .6 3 .3 3-.4 4-1.4 52.1-20.6 4 0 0 137.5 -240.3 0z"/>
<path fill="#d2e8c3" fill-rule="evenodd" d="M359.7 423.8l5 .3 51.1 20.1 4 1.3 3 .5 2-.1 3-.9 20-12.5 7-3.6 7-2.6 9-2.1 8-.7 6.1 .3 7 .9 8 2.2 6 2.5 6 3.1 20 12.5 3 .9 2 .1 3-.5 4-1.3 51.1-20.1 5-.3 0 137.1 -240.3 0z"/>
<path fill="#d7eac9" fill-rule="evenodd" d="M359.7 424.2l5 .3 53.1 20.6 3 .8 2 .2 2.7-.1 2.3-.8 20-12.5 7-3.5 7-2.6 9-1.9 8-.7 6.1 .2 7 .9 8 2.2 6 2.4 6 3 20 12.5 2.3 .8 2.7 .1 2-.2 3-.8 53.1-20.6 5-.3 0 136.7 -240.3 0z"/>
<path fill="#dbedce" fill-rule="evenodd" d="M359.7 424.7l5 .2 53.1 20.3 3 .9 2 .2 3-.3 2-.7 19-11.7 8-4 7-2.6 9-1.9 8-.7 6.1 .2 7 .9 8 2.1 5 2 6 2.9 21 12.8 2 .7 3 .3 2-.2 3-.9 53.1-20.3 5-.2 0 136.2 -240.3 0z"/>
<path fill="#dfefd4" fill-rule="evenodd" d="M359.7 425.1l5 .3 53.1 20 3 .8 2 .2 3-.2 2-.7 19-11.6 8-4 7-2.5 9-1.9 8-.7 6.1 .3 7 .8 8 2.1 5 1.9 6 2.8 21 12.8 2 .7 3 .2 2-.2 3-.8 53.1-20 5-.3 0 135.8 -240.3 0z"/>
<path fill="#e3f1da" fill-rule="evenodd" d="M359.7 425.6l4 0 28.9 10.4 25.2 9.5 3 .9 2 .1 3-.1 2-.7 19.3-11.7 7.7-3.8 7-2.4 9-1.9 8-.7 6.1 .3 7 .9 8 2 4.4 1.6 6.6 3 21 12.7 2 .7 3 .1 2-.1 3-.9 25.2-9.5 28.9-10.4 4 0 0 135.3 -240.3 0z"/>
<path fill="#e8f3e0" fill-rule="evenodd" d="M359.7 426.1l5 .2 29.9 10.7 23.2 8.7 3 .8 2 .2 3-.2 3-1.2 17.1-10.3 8-4 8.7-3 8.2-1.7 8-.6 6.1 .2 8 1.1 7 1.7 5.9 2.3 6.1 2.9 20 11.9 2 .7 3 .2 2-.2 3-.8 23.2-8.7 29.9-10.7 5-.2 0 134.8 -240.3 0z"/>
<path fill="#ecf5e5" fill-rule="evenodd" d="M359.7 426.6l4 0 32.9 11.4 20.2 7.5 4 1.2 3 .1 3-.4 2-.9 17.6-10.5 8.3-4 6.1-2.2 10-2 8-.7 5.1 .2 7 .7 8.4 2 5.6 1.9 6.6 3.1 19.4 11.5 3 1.2 3 .1 3-.3 23.2-8.5 32.9-11.4 4 0 0 134.3 -240.3 0z"/>
<path fill="#f0f7eb" fill-rule="evenodd" d="M359.7 427.1l5 .3 31 10.6 23.1 8.4 2 .4 3 .2 2-.2 2-.6 19.2-11.2 6.3-3 8.6-3 4.9-1.2 5-.7 8-.5 6.5 .4 7.2 1 7.4 1.9 9.9 4.1 21.1 12.2 2 .6 2 .2 3-.2 2-.4 23.1-8.4 31-10.6 5-.3 0 133.8 -240.3 0z"/>
<path fill="#f4faf1" fill-rule="evenodd" d="M359.7 427.8l5 .2 32.9 11 20.2 7.3 3 .7 3 .1 4-.6 18-10.5 8.5-4 5.7-2 10.8-2.2 8-.6 6.1 .2 6 .6 8.8 2 5.7 2 6.6 3 19.9 11.5 4 .6 3-.1 3-.7 20.2-7.3 32.9-11 5-.2 0 133.1 -240.3 0z"/>
<path fill="#f9fcf6" fill-rule="evenodd" d="M359.7 428.5l4 0 1.9 .5 33.7 11 18.5 6.6 3 .5 3 .1 3-.2 2-.7 17.8-10.3 9-4 6.5-2 4.6-1 5.1-.7 7-.5 6.1 .2 8.1 1 8.2 2 5.4 2 6.5 3 17.8 10.3 2 .7 3 .2 3-.1 3-.5 18.5-6.6 33.7-11 1.9-.5 4 0 0 132.4 -240.3 0z"/>
<path fill="#fdfefc" fill-rule="evenodd" d="M359.7 429.5l4 0 2.2 .5 34.8 11 16.1 5.6 3 .6 7 0 2-.5 17.1-9.7 8.9-4 6.3-2 4.5-1 7.2-1 7-.4 7.1 .4 7.2 1 7.9 2 9.9 4 19 10.7 2 .5 7 0 3-.6 16.1-5.6 34.8-11 2.2-.5 4 0 0 131.4 -240.3 0z"/>
<path fill="#fffdfc" fill-rule="evenodd" d="M359.7 457.9l7 0 1-1 2 0 1-1 3 0 1-1 3 0 1-1 2 0 1-1 3 0 1-1 3 0 1-1 2 0 1-1 3 0 1-1 3 0 1-1 2.1 0 1-.5 34 0 1 .5 1 0 1 1 1 0 1 1 1 0 1 1 1 0 1 1 1 0 1 1 1 0 1 1 1 0 1 1 2 0 1 1 2 0 1 1 2 0 1 1 8 0 1-1 18.1 0 1 1 8 0 1-1 2 0 1-1 2 0 1-1 2 0 1-1 1 0 1-1 1 0 1-1 1 0 1-1 1 0 1-1 1 0 1-1 1 0 1-1 1 0 1-.5 34 0 1 .5 2.1 0 1 1 3 0 1 1 3 0 1 1 2 0 1 1 3 0 1 1 3 0 1 1 2 0 1 1 3 0 1 1 3 0 1 1 2 0 1 1 7 0 0 103 -240.3 0z"/>
<path fill="#fff9f6" fill-rule="evenodd" d="M359.7 465.4l4 0 2.2-.5 34.8-11 16.1-5.6 3-.6 7 0 2 .5 17.1 9.7 8.9 4 6.3 2 4.5 1 7.2 1 7 .4 7.1-.4 7.2-1 7.9-2 9.9-4 19-10.7 2-.5 7 0 3 .6 16.1 5.6 34.8 11 2.2 .5 4 0 0 95.5 -240.3 0z"/>
<path fill="#fff6f1" fill-rule="evenodd" d="M359.7 466.4l4 0 1.9-.5 33.7-11 18.5-6.6 3-.5 3-.1 3 .2 2 .7 17.8 10.3 9 4 6.5 2 4.6 1 5.1 .7 7 .5 6.1-.2 8.1-1 8.2-2 5.4-2 6.5-3 17.8-10.3 2-.7 3-.2 3 .1 3 .5 18.5 6.6 33.7 11 1.9 .5 4 0 0 94.5 -240.3 0z"/>
<path fill="#fff2eb" fill-rule="evenodd" d="M359.7 467.1l5-.2 32.9-11 20.2-7.3 3-.7 3-.1 4 .6 18 10.5 8.5 4 5.7 2 10.8 2.2 8 .6 6.1-.2 6-.6 8.8-2 5.7-2 6.6-3 19.9-11.5 4-.6 3 .1 3 .7 20.2 7.3 32.9 11 5 .2 0 93.8 -240.3 0z"/>
<path fill="#ffeee5" fill-rule="evenodd" d="M359.7 467.8l5-.3 31-10.6 23.1-8.4 2-.4 3-.2 2 .2 2 .6 19.2 11.2 6.3 3 8.6 3 4.9 1.2 5 .7 8 .5 6.5-.4 7.2-1 7.4-1.9 9.9-4.1 21.1-12.2 2-.6 2-.2 3 .2 2 .4 23.1 8.4 31 10.6 5 .3 0 93.1 -240.3 0z"/>
<path fill="#ffebe0" fill-rule="evenodd" d="M359.7 468.3l4 0 32.9-11.4 20.2-7.5 4-1.2 3-.1 3 .4 2 .9 17.6 10.5 8.3 4 6.1 2.2 10 2 8 .7 5.1-.2 7-.7 8.4-2 5.6-1.9 6.6-3.1 19.4-11.5 3-1.2 3-.1 3 .3 23.2 8.5 32.9 11.4 4 0 0 92.6 -240.3 0z"/>
<path fill="#ffe7da" fill-rule="evenodd" d="M359.7 468.8l5-.2 29.9-10.7 23.2-8.7 3-.8 2-.2 3 .2 3 1.2 17.1 10.3 8 4 8.7 3 8.2 1.7 8 .6 6.1-.2 8-1.1 7-1.7 5.9-2.3 6.1-2.9 20-11.9 2-.7 3-.2 2 .2 3 .8 23.2 8.7 29.9 10.7 5 .2 0 92.1 -240.3 0z"/>
<path fill="#ffe3d4" fill-rule="evenodd" d="M359.7 469.3l4 0 28.9-10.4 25.2-9.5 3-.9 2-.1 3 .1 2 .7 19.3 11.7 7.7 3.8 7 2.4 9 1.9 8 .7 6.1-.3 7-.9 8-2 4.4-1.6 6.6-3 21-12.7 2-.7 3-.1 2 .1 3 .9 25.2 9.5 28.9 10.4 4 0 0 91.6 -240.3 0z"/>
<path fill="#ffdfce" fill-rule="evenodd" d="M359.7 469.8l5-.3 53.1-20 3-.8 2-.2 3 .2 2 .7 19 11.6 8 4 7 2.5 9 1.9 8 .7 6.1-.3 7-.8 8-2.1 5-1.9 6-2.8 21-12.8 2-.7 3-.2 2 .2 3 .8 53.1 20 5 .3 0 91.1 -240.3 0z"/>
<path fill="#ffdcc9" fill-rule="evenodd" d="M359.7 470.2l5-.2 53.1-20.3 3-.9 2-.2 3 .3 2 .7 19 11.7 8 4 7 2.6 9 1.9 8 .7 6.1-.2 7-.9 8-2.1 5-2 6-2.9 21-12.8 2-.7 3-.3 2 .2 3 .9 53.1 20.3 5 .2 0 90.7 -240.3 0z"/>
<path fill="#ffd8c3" fill-rule="evenodd" d="M359.7 470.7l5-.3 53.1-20.6 3-.8 2-.2 2.7 .1 2.3 .8 20 12.5 7 3.5 7 2.6 9 1.9 8 .7 6.1-.2 7-.9 8-2.2 6-2.4 6-3 20-12.5 2.3-.8 2.7-.1 2 .2 3 .8 53.1 20.6 5 .3 0 90.2 -240.3 0z"/>
<path fill="#ffd4bd" fill-rule="evenodd" d="M359.7 471.1l5-.3 51.1-20.1 4-1.3 3-.5 2 .1 3 .9 20 12.5 7 3.6 7 2.6 9 2.1 8 .7 6.1-.3 7-.9 8-2.2 6-2.5 6-3.1 20-12.5 3-.9 2-.1 3 .5 4 1.3 51.1 20.1 5 .3 0 89.8 -240.3 0z"/>
<path fill="#ffd0b7" fill-rule="evenodd" d="M359.7 471.5l4 0 52.1-20.6 4-1.4 3-.4 3 .3 2 .6 19 12.1 8 4.2 8 3 5 1.3 4 .6 7 .6 6.1-.3 7-.9 8-2.2 5-2.1 6-3 21-13.3 2-.6 3-.3 3 .4 4 1.4 52.1 20.6 4 0 0 89.4 -240.3 0z"/>
<path fill="#ffcdb2" fill-rule="evenodd" d="M359.7 471.9l4 0 52.2-21 2.9-1 3-.6 3 .1 3 .8 21 13.4 10 4.8 10 2.8 11 1.1 11.1-1.1 7-1.8 5-1.8 8-4 18-11.7 4-2.1 2-.4 3-.1 5 1.3 51.1 20.7 2 .6 4 0 0 89 -240.3 0z"/>
<path fill="#ffc9ac" fill-rule="evenodd" d="M359.7 472.4l4 0 50.1-20.5 7-2.3 5 .1 3 1.2 19 12.4 10 5.1 10 3.1 6 .9 6 .4 6.1-.4 6-.9 10-3.1 10-5.1 15.7-10.4 5.3-3 2-.4 3 0 5 1.3 51.1 20.9 2 .7 4 0 0 88.5 -240.3 0z"/>
<path fill="#ffc5a6" fill-rule="evenodd" d="M359.7 472.8l4 0 1-.3 49.5-20.6 6.6-2.2 5 .2 2.7 1 20.3 13.4 10 5 10 2.9 11 1.1 11.1-1.1 7-1.9 5-1.9 8-4.1 17-11.4 5-2.7 2-.5 3-.1 2 .3 3 1 51.1 21.2 2 .7 4 0 0 88.1 -240.3 0z"/>
<path fill="#ffc2a1" fill-rule="evenodd" d="M359.7 473.2l4 0 50.8-21.3 6.3-2 4.3 0 3 1 7.9 5 10.8 7.5 5 3 6 2.9 10 3.2 6 1 6 .4 6.1-.4 6-1 10-3.2 9-4.6 15.8-10.8 6.2-3.5 2-.5 3-.1 4.7 1.1 51.4 21.7 2 .6 4 0 0 87.7 -240.3 0z"/>
<path fill="#ffbe9b" fill-rule="evenodd" d="M359.7 473.7l4 0 1-.3 50.2-21.5 3.9-1.3 4-.6 3 .4 2 .6 9.2 5.9 10.8 7.6 5 3 6 2.9 9 2.9 6 1 6 .5 5.1-.4 6-.9 4-1 6-2.1 4-1.9 7-4 13.8-9.6 6.3-4 2.9-.7 3-.2 4.3 .9 52.8 22.5 1 .3 4 0 0 87.2 -240.3 0z"/>
<path fill="#ffba95" fill-rule="evenodd" d="M359.7 474.1l4 0 1-.3 50.7-21.9 3.4-1.1 4-.4 4 .5 2.1 1 8.9 6 9 6.6 10 5.9 5 2.1 6 2.1 10 2.3 2 .8 2.1-.8 10-2.3 6-2.1 5-2.1 10-5.9 11.8-8.6 8-5 5.2-.6 3.8 .6 52.3 22.5 2 .7 4 0 0 86.8 -240.3 0zM494.7 505.9l-.7-1 -6.8-5 -3-3 -1.9-3 -2.5-5.7 -2.4 5.7 -1.9 3 -3 3 -6.8 5 -.7 1 1.8 .7 25.1 .1 2-.3z"/>
<path fill="#ffb68f" fill-rule="evenodd" d="M359.7 474.6l4 0 1-.3 51.2-22.4 3.9-1.1 5.5 .1 2.5 .9 2 1.1 7.1 5 11.2 9 2 2 .4 1 0 20 -.8 9 -.9 3 -1.4 3 -6.4 8 .1 1 1.8 0 9.9-2.5 10-2.1 8-1 9-.3 9.1 .3 8 1 10 2.1 9.9 2.5 1.8 0 .1-1 -6.4-8 -1.4-3 -.9-3 -.8-9 0-20 1.3-2 8.4-7 8-6 4.7-3 2.8-1 3.5-.2 3 .2 2.9 1 51.2 22.4 1 .3 4 0 0 86.3 -240.3 0z"/>
<path fill="#ffb38a" fill-rule="evenodd" d="M359.7 475l4 0 2-.6 50.9-22.5 4.2-.9 5.4 .9 3.2 2 1.4 2 -1 47 -.6 5 -1.2 4 -2 4 -4.9 7 .4 1 3.5-1 18.8-7.6 13-3.9 11-2.1 12-.7 12.1 .7 11 2.1 13 3.9 18.8 7.6 3.5 1 .4-1 -4.3-6 -2.2-4 -1.1-3 -.8-4 -.4-7 -.9-43 1.4-2 3.2-2 5.4-.9 4.2 .9 50.9 22.5 2 .6 4 0 0 85.9 -240.3 0z"/>
<path fill="#ffaf84" fill-rule="evenodd" d="M359.7 475.5l4 0 1-.2 43.2-19.4 9.7-4 2.2-.2 2 .2 1.5 1 .2 2 -1.1 5 -5.8 19 -1.9 8 -1.3 9 -1.4 17 -.9 6 -.9 3 -1.4 3 -5.9 9 -.1 1.1 1-.1 2.4-1 16.6-8.5 10-4.8 8-3.4 8-2.9 7-2.1 9-1.9 7-.9 8-.3 8.1 .3 7 .9 9 1.9 7 2.1 8 2.9 8 3.4 10 4.8 16.6 8.5 2.4 1 1 .1 -.1-1.1 -5.9-9 -2-5 -1-5 -1.5-18 -1.4-10 -1.9-8 -4.7-15 -2.2-9 .2-2 1.4-1 2.1-.2 2.2 .2 9.7 4 43.2 19.4 1 .2 4 0 0 85.4 -240.3 0z"/>
<path fill="#ffab7e" fill-rule="evenodd" d="M359.7 476.1l4 0 2-.7 48.1-21.5 2.9-1 1.1 0 .5 0 .4 1 -1 2 -6.8 9 -3.9 6 -3.3 6 -2.9 7 -2.3 8 -1.5 8 -1 9 -1.1 16 -.8 5 -2.2 6 -6.4 10 .2 .6 2-.5 4.1-2.1 18-10.6 14-7.7 9-4.4 9-3.9 11-3.8 8-2 8-1.4 11-.7 11.1 .7 8 1.4 8 2 11 3.8 9 3.9 9 4.4 14 7.7 18 10.6 4.1 2.1 2 .5 .2-.6 -6.4-10 -2.2-6 -.8-5 -1.1-16 -1-9 -1.5-8 -2.3-8 -2.9-7 -3.3-6 -3.9-6 -6.8-9 -1-2 .4-1 .5 0 1.1 0 2.9 1 48.1 21.5 2 .7 4 0 0 84.8 -240.3 0z"/>
<path fill="#ffa778" fill-rule="evenodd" d="M406.5 458.9l-8.6 10 -5.1 7 -4.1 7 -3.5 8 -2.4 8 -1.7 9 -1.1 10 -1 17 -.9 6 -1.2 4 -1.4 3 -5.6 9 0 4 -10.2 0 0-84.2 4 0 1-.3 34.8-15.5 5.1-2zM553.2 458.9l1.9 0 5.1 2 34.8 15.5 1 .3 4 0 0 84.2 -10.2 0 0-4 -5.6-9 -1.4-3 -1.2-4 -.9-6 -1-17 -1.1-10 -1.7-9 -2.4-8 -3.5-8 -4.1-7 -5.1-7zM374.3 556.9l.8-1 3.6-2.5 30.1-18.9 16-8.9 13-6.2 13-4.9 11-2.9 9-1.4 11.1-.4 10 .8 6 1 7 1.7 12 4.1 14 6.2 11 5.7 12 7 30.1 19.1 1.4 1.5 0 4 -211.1 0z"/>
<path fill="#ffa473" fill-rule="evenodd" d="M390.7 466.9l-7.6 9 -4.4 6 -3.8 6 -3.5 7 -2.8 8 -2.1 9 -1.4 10 -1.4 16.2 -4 0 0-60.7 4 0 22.3-9.5 2.7-1zM569 466.9l2 0 24 10.3 1 .2 4 0 0 60.7 -4 0 -1.4-16.2 -1.4-10 -2.1-9 -2.8-8 -3.5-7 -3.8-6 -4.4-6zM376 556.9l1.7-1.8 7-4.8 23.1-14.7 16-9.1 13-6.3 12-4.7 11-3.1 11-1.9 11.1-.4 6 .3 6 .8 11 2.4 6 1.9 8 3 13 6 11 5.9 12 7 26.1 17 1.9 1.5 .8 1 0 4 -207.7 0z"/>
<path fill="#ffa06d" fill-rule="evenodd" d="M375.4 474.9l-11.7 14.2 -4 0 0-10.7 4 0 9.3-3.5 1.7-.2zM584.3 474.9l.7-.2 1.7 .2 9.3 3.5 4 0 0 10.7 -4 0zM376.8 556.9l1.9-1.9 8-5.5 22.1-14.1 14-8 14-6.8 13-5.1 11-3.1 11-1.7 10.1-.3 6 .3 6 .8 12 2.7 12 4.2 13 5.9 10 5.3 13 7.6 26.1 17.1 2.1 1.6 .8 1 0 4 -206.1 0z"/>
<path fill="#ff9c67" fill-rule="evenodd" d="M377.5 556.9l1.2-1.4 9-6.2 20.1-12.9 16-9.2 14-6.8 13-5 10-2.7 10-1.6 11.1-.5 11 1 6 1.1 7 1.8 11 3.8 14 6.3 11 5.9 10 5.9 14.1 8.9 14 9.5 2.2 2.1 0 4 -204.7 0z"/>
<path fill="#ff9962" fill-rule="evenodd" d="M378 556.9l1.7-1.7 10-6.9 20.1-12.8 14-8 14-6.8 11-4.3 11-3.2 11-1.9 11.1-.4 11 1 12 2.6 12 4.1 13 5.8 11 5.9 12 7 11.1 7 15 10.2 2.7 2.4 0 4 -203.7 0z"/>
<path fill="#ff955c" fill-rule="evenodd" d="M378.5 556.9l1.2-1.3 9-6.3 20.1-12.9 14-8 14-7 12-4.7 11-3.2 11-1.9 11.1-.4 11 .9 12 2.7 11 3.7 14 6.2 11 5.9 10 5.8 13.1 8.3 16.4 11.2 .8 1 0 4 -202.7 0z"/>
<path fill="#ff9156" fill-rule="evenodd" d="M378.9 556.9l1.8-1.7 8-5.5 20.1-13 14-8 14-7 12.1-4.8 10.9-3.2 11-1.8 11.1-.5 11 1 11.6 2.5 13.4 4.7 13 5.9 10 5.4 11 6.4 13.1 8.4 13 8.8 2.8 2.4 0 4 -201.9 0z"/>
<path fill="#ff8d50" fill-rule="evenodd" d="M379.4 556.9l2.2-2 9.1-6.3 18.3-11.7 13.8-8 14.1-7 12.7-5 10.5-3 11.7-1.9 10.1-.3 5 .2 7 .9 12 2.8 12 4.2 13 6 11 5.9 10 5.9 11.1 7 15 10.2 2.3 2.1 0 4 -200.9 0z"/>
<path fill="#ff8a4b" fill-rule="evenodd" d="M379.8 556.9l2.3-2 8.7-6 19-12.2 14-8 13.8-6.8 12.8-5 10.9-3 10.5-1.6 10.1-.4 11.1 1 5.4 1 7.5 2 11.5 4 13.2 6 9.4 5 11.9 7 12.5 8 13.2 9 2.3 2 0 4 -200.1 0z"/>
<path fill="#ff8645" fill-rule="evenodd" d="M380.2 556.9l2.3-2 10.3-7 18.8-12 14.2-8 12.4-6 13.1-5 11.3-3 9.2-1.3 10.1-.4 10 .8 5.2 .9 8.1 2 11.5 4 13.3 6 11.2 6 11.7 7 24.3 16 2.3 2 0 4 -199.3 0z"/>
<path fill="#ff823f" fill-rule="evenodd" d="M380.7 556.9l2.3-2 8.8-6 18.7-12 14-8 14.4-7 10.3-4 10.6-3.1 11-1.9 11.1-.4 6 .3 5 .7 11.2 2.4 11.9 4 13.4 6 9.5 5 12 7 11 7 14.8 10 2.3 2 0 4 -198.3 0z"/>
<path fill="#ff7e39" fill-rule="evenodd" d="M381.2 556.9l2.3-2 10.3-7 18.9-12 14.3-8 12.6-6 10.5-4 10.6-3 11.1-1.7 10.1-.4 5 .3 7 .8 9.1 2 12.1 4 13.6 6 11.4 6 11.9 7 24.2 16 2.3 2 0 4 -197.3 0z"/>
<path fill="#ff7b34" fill-rule="evenodd" d="M381.7 556.9l1-1 10.2-7 18.7-12 14.2-8 12.4-6 12.9-5 11.2-3 9.5-1.4 10.1-.4 9.8 .8 5.7 1 7.9 2 11.5 4 13.2 6 11.2 6 11.8 7 22.6 15 2.4 2 0 4 -196.3 0z"/>
<path fill="#ff772e" fill-rule="evenodd" d="M382.3 556.9l2.4-2 8.8-6 17.2-11 14-8 14.4-7 10.3-4 10.2-3 11.6-2 10.7-.4 6.6 .4 6.4 .9 9.1 2.1 11.8 4 13.4 6 7.7 4 12.1 7 11.1 7 14.9 10 2.4 2 0 4 -195.1 0z"/>
<path fill="#ff7328" fill-rule="evenodd" d="M383 556.9l9.7-7 17.2-11 13.8-8 14.2-7 12.9-5 10.9-3 10.1-1.5 9.1-.4 11.7 .9 9.6 2 12.3 4 13.7 6 9.6 5 12 7 11.1 7 13.3 9 2.5 2 0 4 -193.7 0z"/>
<path fill="#ff7023" fill-rule="evenodd" d="M383.9 556.9l2.5-2 10.3-7 15.9-10 14.2-8 12.6-6 10.3-4 10.4-3 4.8-1 7.3-1 9.7-.2 5.6 .2 7.3 1 8.8 2 11.9 4 13.5 6 9.4 5 10.4 6 11.1 7 13.4 9 2.5 2 0 4 -191.9 0z"/>
<path fill="#ff6c1d" fill-rule="evenodd" d="M385.4 556.9l11.4-8 15.8-10 14.3-8 12.5-6 10.3-4 10.4-3 4.8-1 7.3-1 9.7-.2 5.6 .2 7.3 1 8.7 2 11.9 4 13.5 6 9.5 5 10.3 6 11.1 7 12 8 2.5 2 0 4 -188.9 0z"/>
</g></g>
<rect x="363.7" y="338" width="232.3" height="218.9" fill="none" stroke="#262626" stroke-width="1.8"/>
<path d="M479.85 556.9v-3.2M479.85 338v3.2M363.7 447.45h3.2M596 447.45h-3.2" stroke="#262626" stroke-width="1.5" fill="none"/>
<text x="354.9" y="344.9" font-size="18" text-anchor="end" font-family="'Liberation Sans', Arial, Helvetica, sans-serif" fill="#262626">0.05</text>
<text x="354.9" y="454.45" font-size="18" text-anchor="end" font-family="'Liberation Sans', Arial, Helvetica, sans-serif" fill="#262626">0</text>
<text x="353.4" y="563.7" font-size="18" text-anchor="end" font-family="'Liberation Sans', Arial, Helvetica, sans-serif" fill="#262626">-0.05</text>
<text x="361.5" y="582.8" font-size="18" text-anchor="middle" font-family="'Liberation Sans', Arial, Helvetica, sans-serif" fill="#262626">-0.1</text>
<text x="478.65" y="582.9" font-size="18" text-anchor="middle" font-family="'Liberation Sans', Arial, Helvetica, sans-serif" fill="#262626">0</text>
<text x="595" y="582.8" font-size="18" text-anchor="middle" font-family="'Liberation Sans', Arial, Helvetica, sans-serif" fill="#262626">0.1</text>
<text x="163.4" y="364.3" font-size="19.3" text-anchor="middle" font-family="'Liberation Sans', Arial, Helvetica, sans-serif" fill="#000">-1</text>
<text x="109.3" y="414.7" font-size="18.6" text-anchor="middle" font-family="'Liberation Sans', Arial, Helvetica, sans-serif" fill="#000">-0.5</text>
<text x="220.6" y="414.9" font-size="21.2" text-anchor="middle" font-family="'Liberation Sans', Arial, Helvetica, sans-serif" fill="#000">-0.5</text>
<text x="68.2" y="455.5" font-size="20.6" text-anchor="middle" font-family="'Liberation Sans', Arial, Helvetica, sans-serif" fill="#000">0</text>
<text x="168.4" y="455.5" font-size="20.6" text-anchor="middle" font-family="'Liberation Sans', Arial, Helvetica, sans-serif" fill="#000">0</text>
<text x="272.5" y="455.5" font-size="20.6" text-anchor="middle" font-family="'Liberation Sans', Arial, Helvetica, sans-serif" fill="#000">0</text>
<text x="113.7" y="499.9" font-size="20.4" text-anchor="middle" font-family="'Liberation Sans', Arial, Helvetica, sans-serif" fill="#000">0.5</text>
<text x="221.4" y="499.4" font-size="17.2" text-anchor="middle" font-family="'Liberation Sans', Arial, Helvetica, sans-serif" fill="#000">0.5</text>
<text x="166.9" y="542.6" font-size="20" text-anchor="middle" font-family="'Liberation Sans', Arial, Helvetica, sans-serif" fill="#000">1</text>
<text x="168.4" y="603.2" font-size="19" text-anchor="middle" font-family="'DejaVu Serif', 'Liberation Serif', serif" font-style="italic" fill="#262626">λ<tspan font-size="13.68" dy="3.9" dx="-0.9">ν</tspan><tspan dy="-3.9" dx="1.3">/</tspan><tspan dx="0.7">t</tspan></text>
<text transform="translate(17.1 447.8) rotate(-90)" font-size="19" text-anchor="middle" font-family="'DejaVu Serif', 'Liberation Serif', serif" font-style="italic" fill="#262626">λ<tspan font-size="13.68" dy="3.9" dx="-0.9">soc</tspan><tspan dy="-3.9" dx="1.3">/</tspan><tspan dx="0.7">t</tspan></text>
<text x="52.3" y="325.5" font-size="26" text-anchor="start" font-family="'Liberation Serif', 'Times New Roman', serif" fill="#000">(c)</text>
<text x="475.2" y="365.1" font-size="20" text-anchor="middle" font-family="'Liberation Sans', Arial, Helvetica, sans-serif" fill="#000">-1</text>
<text x="473.4" y="410.1" font-size="17.8" text-anchor="middle" font-family="'Liberation Sans', Arial, Helvetica, sans-serif" fill="#000">-0.5</text>
<text x="383.7" y="452.3" font-size="16.4" text-anchor="middle" font-family="'Liberation Sans', Arial, Helvetica, sans-serif" fill="#000">0</text>
<text x="480" y="456.5" font-size="21" text-anchor="middle" font-family="'Liberation Sans', Arial, Helvetica, sans-serif" fill="#000">0</text>
<text x="576.4" y="455.5" font-size="19.2" text-anchor="middle" font-family="'Liberation Sans', Arial, Helvetica, sans-serif" fill="#000">0</text>
<text x="478.6" y="496.4" font-size="17.6" text-anchor="middle" font-family="'Liberation Sans', Arial, Helvetica, sans-serif" fill="#000">0.5</text>
<text x="479.6" y="545.2" font-size="20.3" text-anchor="middle" font-family="'Liberation Sans', Arial, Helvetica, sans-serif" fill="#000">1</text>
<text x="474.5" y="603.4" font-size="19" text-anchor="middle" font-family="'DejaVu Serif', 'Liberation Serif', serif" font-style="italic" fill="#262626">λ<tspan font-size="13.68" dy="3.9" dx="-0.9">R</tspan><tspan dy="-3.9" dx="1.3">/</tspan><tspan dx="0.7">t</tspan></text>
<text transform="translate(327.7 448.2) rotate(-90)" font-size="19" text-anchor="middle" font-family="'DejaVu Serif', 'Liberation Serif', serif" font-style="italic" fill="#262626">λ<tspan font-size="13.68" dy="3.9" dx="-0.9">soc</tspan><tspan dy="-3.9" dx="1.3">/</tspan><tspan dx="0.7">t</tspan></text>
<text x="364.9" y="325.6" font-size="26" text-anchor="start" font-family="'Liberation Serif', 'Times New Roman', serif" fill="#000">(d)</text>
<rect x="625.7" y="337.7" width="24.4" height="219.8" fill="url(#gS)" stroke="#262626" stroke-width="1"/>
<text x="657.6" y="343.9" font-size="15.4" text-anchor="start" font-family="'Liberation Sans', Arial, Helvetica, sans-serif" fill="#262626">1</text>
<text x="657.6" y="398.85" font-size="15.4" text-anchor="start" font-family="'Liberation Sans', Arial, Helvetica, sans-serif" fill="#262626">0.5</text>
<text x="657.6" y="453.8" font-size="15.4" text-anchor="start" font-family="'Liberation Sans', Arial, Helvetica, sans-serif" fill="#262626">0</text>
<text x="657.6" y="508.75" font-size="15.4" text-anchor="start" font-family="'Liberation Sans', Arial, Helvetica, sans-serif" fill="#262626">-0.5</text>
<text x="657.6" y="563.7" font-size="15.4" text-anchor="start" font-family="'Liberation Sans', Arial, Helvetica, sans-serif" fill="#262626">-1</text>
<path d="M650.1 392.65h-2.4M650.1 447.6h-2.4M650.1 502.55h-2.4" stroke="#262626" stroke-width="1" fill="none"/>
<text transform="translate(629.3 326) scale(0.9 1)" font-size="21.5" font-family="'DejaVu Serif Condensed', 'DejaVu Serif', 'Liberation Serif', serif" font-style="italic" fill="#000">C<tspan font-size="15.5" dy="4.4" dx="0.5">s</tspan></text>
<clipPath id="clipe"><rect x="52.9" y="638" width="228.9" height="221.2"/></clipPath>
<g clip-path="url(#clipe)">
<path d="M52.9 637.9l4.2 .4 4.2 1.1 4.2 1.8 3.5 2.2 3.6 2.7 4.2 4 4.2 4.7 4.2 5.5 3.5 5.1 3.5 5.6 3.5 6 4.2 7.7 4.3 8.3 4.9 10.2 14.7 32.7 2.1 3.9 .7 .9 .7 .6 .7 .3 .7-.2 .7-.7 .7-.9 1.4-2.5 2.8-6.4 3.6-8.8 6.3-16.8 7-19.7 16.2-47.6 .7 0M52.9 637.2l4.2 .3 3.5 .9 4.2 1.8 3.5 2 3.6 2.6 4.2 3.8 3.5 3.8 4.2 5.2 3.5 4.9 4.2 6.5 4.2 7.1 4.2 7.6 7.8 15.3 11.9 25.6 3.5 7 1.4 2.4 1.4 1.9 1.4 1.1 .7 .2 .7 0 .7-.4 .7-.6 .7-.8 1.4-2.2 2.9-5.6 3.5-8.3 5.6-14.6 7-19.3 7-20.3 9.2-27.1 .7 0M52.9 635.8l4.2 .3 3.5 .9 3.5 1.4 3.5 1.9 3.6 2.5 3.5 3 3.5 3.5 4.2 4.9 3.5 4.7 4.2 6.2 3.5 5.6 4.2 7.3 7.8 14.6 13.3 27 3.5 6.3 2.1 3.1 1.4 1.5 1.4 .9 1.4 .3 .7-.2 1.4-.9 1.4-1.5 1.4-2 2.9-5.2 3.5-7.9 4.9-12.2 6.3-17 7-19.9 9.2-26.9 .7 0M52.9 633.7l4.2 .3 3.5 .9 3.5 1.4 3.5 1.9 3.6 2.4 3.5 3 3.5 3.5 3.5 4 3.5 4.5 3.5 4.9 3.5 5.4 4.2 7 7.1 12.7 13.3 25.6 4.2 7.4 2.1 3 2.1 2.4 2.1 1.5 1.4 .3 1.4-.2 1.4-.8 1.4-1.3 1.4-1.7 1.5-2.1 2.1-3.8 3.5-7.3 4.9-11.8 5.6-14.7 7-19.6 8.5-24.5 .7 0M61.3 632.4l2.8 1.1 2.8 1.5 2.9 1.8 2.8 2.1 2.8 2.5 2.8 2.8 2.8 3.1 2.8 3.5 2.8 3.7 3.5 5 6.3 10.1 6.4 11 12.6 23.3 4.9 8.1 2.8 3.8 2.1 2.1 2.1 1.5 1.4 .4 .7 .1 1.4-.3 1.4-.6 1.4-1.1 2.2-2.4 1.4-2 2.1-3.5 3.5-6.9 4.9-11.3 5.6-14.3 6.3-17.4 7.8-22.1 .7 0M67.6 632.1l4.3 2.9 4.2 3.6 4.2 4.4 4.9 6 5.6 7.8 5.6 8.8 5.7 9.5 11.9 21.1 5.6 9 2.8 3.7 2.8 2.9 1.4 1 1.4 .7 2.1 .4 1.4-.1 1.4-.6 1.4-.9 2.2-2.1 1.4-1.7 2.1-3.2 3.5-6.3 4.2-9 4.2-10 7-18.4 8.5-23.6 .7 0M73.3 632.2l4.2 3.8 4.2 4.5 4.2 5.2 4.2 5.8 4.2 6.3 4.2 6.7 16.2 27.3 2.8 4.3 2.8 4 2.8 3.4 2.8 2.6 1.4 .9 1.4 .6 2.1 .4 1.4-.1 1.4-.4 1.5-.8 2.1-1.8 1.4-1.5 2.1-2.8 2.1-3.3 2.1-3.8 3.5-7 4.2-9.6 6.3-15.9 8.5-23 .7 0M78.2 632.1l3.5 3.7 3.5 4.2 3.5 4.7 3.5 4.9 7 10.8 14.1 23.1 3.5 5.3 2.8 4 3.5 4.2 2.8 2.6 2.8 1.7 1.4 .5 1.4 .3 2.1-.2 1.5-.5 1.4-.8 2.1-1.7 1.4-1.4 2.1-2.6 3.5-5.5 3.5-6.6 4.2-9 6.3-15.3 7.8-20.5 .7 0M83.1 632.2l5.6 7 5.6 8 5.6 8.6 13.4 21.3 3.5 5.2 2.8 3.8 3.5 4.2 3.5 3.2 2.1 1.4 1.4 .6 1.4 .4 1.4 .2 2.2-.3 1.4-.4 1.4-.8 2.1-1.6 1.4-1.3 2.1-2.5 3.5-5.2 3.5-6.2 4.2-8.7 5.6-13.1 7.1-18 .7 0M88 632.3l3.5 4.7 4.2 6.1 17.6 27.2 3.5 5.1 3.5 4.7 3.5 4 3.5 3.2 2.1 1.4 1.4 .6 1.4 .5 1.4 .3 2.2-.1 1.4-.3 1.4-.6 2.1-1.3 1.4-1.2 2.1-2.1 3.5-4.6 3.5-5.8 4.2-8.1 5.6-12.4 6.4-15.6 .7 0M92.9 632.4l6.3 9.2 14.8 22.6 3.5 5 3.5 4.6 4.2 4.7 3.5 3 2.1 1.3 1.4 .6 2.9 .7 2.1 0 1.4-.3 1.4-.5 2.1-1.2 1.4-1.1 2.1-2 3.5-4.3 3.5-5.4 3.5-6.3 4.9-10.2 6.4-14.8 .7 0M97.8 632.4l16.9 25.5 4.2 5.8 4.2 5.3 4.2 4.3 3.5 2.8 2.1 1.1 1.4 .6 2.9 .5 2.1-.1 1.4-.4 2.8-1.3 1.4-.9 2.1-1.8 3.5-4 2.8-4 3.5-5.8 4.9-9.6 5.7-12.4 .7 0M102.1 631.4l14 21.1 4.2 5.8 4.2 5.1 4.2 4.3 3.5 2.7 2.1 1.1 1.5 .6 2.8 .6 2.1 0 1.4-.3 2.8-1.1 1.4-.8 2.1-1.7 3.5-3.6 2.8-3.7 3.5-5.5 4.2-7.8 5-10.2 .7 0M107 631.5l7 10.6 4.9 7 4.2 5.6 3.5 4.1 3.5 3.4 3.5 2.7 2.2 1.2 1.4 .6 2.8 .8 2.1 0 1.4-.2 2.8-.9 2.8-1.6 1.4-1.2 2.1-2 2.8-3.2 2.8-4 4.2-6.9 5-9.5 .7 0M111.9 631.6l5.6 8.3 4.2 5.9 4.2 5.3 3.5 3.9 3.5 3.2 2.9 2 2.1 1.2 1.4 .5 2.8 .7 2.1 .1 1.4-.2 2.8-.9 2.8-1.6 2.8-2.4 2.8-3 2.8-3.7 3.5-5.4 4.3-7.5 .7 0M116.8 631.7l4.2 6.1 4.2 5.6 3.5 4.3 3.5 3.7 3.6 3 2.8 1.8 2.8 1.3 2.8 .7 2.8-.1 2.8-.7 2.8-1.4 2.8-2.1 2.1-2 2.8-3.3 3.5-4.9 3.6-5.7 .7 0M121.7 631.9l3.5 4.8 3.5 4.5 3.5 4 2.9 2.8 2.8 2.3 2.8 1.8 2.8 1.3 2.8 .7 2.8 0 2.1-.4 2.1-.9 2.8-1.6 2.1-1.8 2.1-2 3.5-4.3 3.6-5.1 .7 0M126.6 632.1l3.5 4.6 2.8 3.3 2.9 2.9 2.8 2.6 2.8 2.1 2.1 1.2 2.8 1.2 2.1 .4 2.8 .1 2.1-.4 2.1-.8 2.1-1.2 2.1-1.5 2.8-2.6 2.1-2.4 2.9-3.6 .7 0M131.5 632.4l5 5.7 2.8 2.8 2.1 1.8 2.8 2 2.1 1.2 2.1 .8 2.1 .5 2.1 .1 2.1-.2 2.1-.6 1.4-.6 1.4-.8 2.1-1.5 2.8-2.5 2.9-3.1 .7 0M135.8 631.9l4.9 5.4 4.2 3.6 2.1 1.3 2.1 1.1 2.1 .8 1.4 .3 2.1 .2 1.4-.1 2.1-.4 1.4-.5 1.4-.7 2.1-1.3 2.1-1.6 2.2-2 .7 0M140 631.7l3.5 3.7 3.5 2.9 3.5 2.3 2.1 .9 1.4 .4 2.1 .4 1.4 0 2.8-.4 1.4-.5 2.1-1 3.6-2.4 .7 0M144.2 631.8l3.5 3.3 2.8 2.2 2.8 1.6 2.8 1.1 2.8 .5 2.8-.2 2.8-.8 2.9-1.5 .7 0M148.4 632.2l2.8 2.5 2.1 1.5 2.8 1.6 2.1 .8 2.1 .5 2.1 .1 2.1-.3 2.9-.9 .7 0M151.9 632.3l2.1 1.8 2.1 1.5 2.1 1.2 2.1 .9 2.1 .5 1.4 .1 4.3-.3M166.6 638l.8 0 9.8 28.1 7 19.5 5.6 14.7 4.9 11.7 3.5 7.3 2.9 4.6 1.4 1.7 1.4 1.3 1.4 .8 1.4 .2 1.4-.2 .7-.2 1.4-1 2.1-2.1 2.8-4 4.9-8.4 13.4-25.1 7-12.5 6.3-10.1 3.5-4.9 3.5-4.5 4.2-4.8 3.5-3.4 3.5-2.9 3.6-2.3 3.5-1.8 3.5-1.2 3.5-.6 2.8 0M166.6 638l.8 0 9.1 26 7 19.4 5.6 14.7 4.9 11.6 3.5 7.2 2.1 3.6 1.5 2 1.4 1.6 1.4 1.2 1.4 .7 1.4 .1 1.4-.2 .7-.3 2.1-1.5 2.1-2.4 2.1-2.9 4.9-8.2 14.1-26 7-12.3 6.3-9.9 3.5-4.8 3.5-4.3 3.5-3.9 3.5-3.4 3.5-2.9 3.6-2.3 3.5-1.8 3.5-1.2 3.5-.6 2.8 0M166.6 638l.8 0 9.1 25.8 7 19.1 5.6 14.3 4.2 9.7 3.5 6.9 2.1 3.5 1.5 1.9 1.4 1.6 1.4 1.1 1.4 .7 1.4 .3 2.1-.3 2.1-1.2 1.4-1.3 1.4-1.5 2.8-3.8 2.8-4.4 2.8-4.8 13.4-24.1 7-12 3.5-5.6 2.8-4 3.5-4.7 3.5-4.2 3.5-3.8 3.5-3.3 3.6-2.7 3.5-2.3 3.5-1.6 2.8-.9 3.5-.6 2.8 0M166.6 638l.8 0 8.4 23.5 7 18.8 5.6 14 4.2 9.3 3.5 6.5 2.1 3.3 1.4 1.8 2.2 2 1.4 .9 1.4 .5 1.4 .1 1.4-.2 1.4-.6 2.1-1.4 2.8-2.9 2.8-3.7 5.6-8.9 13.4-23.4 7-11.7 3.5-5.4 2.8-3.9 3.5-4.6 2.8-3.3 3.5-3.7 3.5-3.2 3.6-2.8 3.5-2.2 3.5-1.6 2.8-.9 3.5-.6 2.8 0M166.6 638l.8 0 7.7 21.3 6.3 16.6 5.6 13.6 4.2 9.1 2.1 4 2.1 3.5 2.1 3 1.4 1.7 2.2 1.8 1.4 .8 1.4 .5 1.4 .1 1.4-.2 1.4-.5 1.4-.7 1.4-1 2.8-2.8 2.8-3.5 2.8-4.1 3.5-5.5 13.4-22.7 5.6-9.1 4.9-7.4 5.6-7.4 5.6-6.2 4.9-4.5 2.9-2.1 2.1-1.4 2.8-1.5 2.1-.9M166.6 638l.8 0 8.4 22.6 7 17.7 4.2 9.5 3.5 7.1 3.5 6 2.1 2.9 1.4 1.6 2.1 1.9 1.5 .9 1.4 .6 2.1 .2 1.4-.2 1.4-.5 1.4-.6 1.4-.9 2.8-2.5 2.8-3.3 2.8-3.7 3.5-5.2 16.9-27.6 4.9-7.6 3.5-5 4.9-6.3 4.9-5.4 4.9-4.6 5-3.6M166.6 638l.8 0 8.4 22 6.3 15.3 4.2 9.1 3.5 6.7 3.5 5.5 2.1 2.7 1.4 1.4 2.1 1.7 1.5 .8 1.4 .4 2.1 .2 1.4-.2 1.4-.5 2.1-1 1.4-1 2.8-2.5 3.5-4 3.5-4.7 3.5-5.2 15.5-24.6 7-10.5 4.2-5.5 3.5-4.2 4.2-4.4 3.5-3.2M166.6 638l.8 0 7 17.9 6.3 14.9 4.2 8.8 3.5 6.4 2.1 3.3 2.1 2.9 2.1 2.4 1.4 1.3 2.1 1.4 1.4 .6 1.5 .4 2.1 .1 1.4-.2 1.4-.5 2.1-1.1 1.4-.9 3.5-3.1 3.5-3.9 3.5-4.6 3.5-5.1 14.8-22.9 6.3-9.3 2.8-3.9 3.5-4.4 5.6-6.2M166.6 638l.8 0 7 17.2 5.6 12.6 4.2 8.3 3.5 6 3.5 4.8 2.1 2.2 1.4 1.3 2.1 1.4 1.4 .6 1.4 .4 2.2 .1 1.4-.2 2.1-.7 3.5-2 3.5-3 4.2-4.7 3.5-4.5 4.2-5.9 13.4-20.4 5.6-8.2 4.2-5.7 4.2-5.2M166.6 638l.8 0 6.3 14.9 5.6 11.9 3.5 6.6 3.5 5.7 3.5 4.5 2.1 2.1 1.4 1.2 2.1 1.3 1.4 .6 1.4 .4 2.2 .1 1.4-.2 2.1-.6 2.1-1.1 2.1-1.4 3.5-2.9 4.2-4.6 3.5-4.3 4.2-5.8 16.2-24.1 4.2-6 3.5-4.6M166.6 638l.8 0 5.6 12.6 4.9 10 3.5 6.2 3.5 5.4 3.5 4.3 2.1 2 1.4 1 2.1 1.2 1.4 .6 1.4 .3 2.1 .1 1.5-.2 2.1-.6 1.4-.7 2.1-1.3 4.2-3.3 4.2-4.3 4.2-5.2 4.2-5.6 19.7-28.7M166.6 638l.8 0 5.6 11.9 4.9 9.1 3.5 5.6 2.8 3.8 3.5 3.7 2.1 1.7 1.4 .9 2.8 1.1 1.4 .3 2.1 0 1.4-.2 2.2-.7 1.4-.6 2.1-1.3 4.2-3.3 4.2-4.3 4.2-5 4.9-6.5 15.5-22.4M166.6 638l.8 0 4.9 9.8 4.2 7.3 3.5 5.3 2.8 3.5 3.5 3.5 2.1 1.5 1.4 .8 2.8 .9 1.4 .2 2.1 0 1.4-.3 2.1-.7 3.6-2 3.5-2.7 4.2-4.1 4.2-4.8 4.9-6.3 4.9-6.9 7.7-11.2M166.6 638l.8 0 4.9 9 4.2 6.6 2.8 3.8 2.8 3.1 2.1 1.9 1.4 1 2.8 1.6 2.8 .7 2.8 .1 2.8-.7 3.6-1.6 3.5-2.5 4.2-3.9 4.2-4.6 4.2-5.2 4.9-6.6 6.3-9M166.6 638l.8 0 4.2 7.1 3.5 5.2 2.8 3.4 2.8 2.9 2.8 2.2 2.8 1.5 2.8 .8 2.8 0 2.8-.6 3.5-1.6 2.9-1.9 3.5-3 4.2-4.3 4.2-5 4.9-6.3 4.9-6.9M166.6 638l.8 0 3.5 5.4 3.5 4.7 2.8 3.1 2.1 1.9 2.8 1.9 2.8 1.3 2.1 .5 2.8 .1 2.8-.6 2.8-1.2 2.8-1.8 3.6-2.9 3.5-3.5 4.2-4.7 3.5-4.3 4.2-5.6M166.6 638l.8 0 2.8 3.9 2.8 3.4 2.8 2.9 2.1 1.7 2.8 1.7 2.1 .9 2.1 .4 2.8 .1 2.1-.4 2.8-1.1 2.8-1.6 2.8-2.2 2.9-2.5 3.5-3.7 4.2-5 3.5-4.5M166.6 638l.8 0 2.8 3.4 2.1 2.2 2.8 2.5 2.1 1.4 2.1 1 2.1 .7 2.1 .3 2.8-.1 2.1-.6 2.8-1.2 2.1-1.3 2.8-2.2 2.1-1.9 2.9-2.8 6.3-7.5M166.6 638l.8 0 2.8 2.9 2.8 2.3 2.1 1.4 1.4 .7 2.1 .8 1.4 .3 2.1 .1 2.1-.2 2.1-.6 2.1-.9 2.1-1.2 2.1-1.5 2.1-1.8 2.8-2.7 5-5.6M166.6 638l.8 0 2.1 1.8 2.1 1.6 2.1 1.1 1.4 .6 2.1 .6 1.4 .2 1.4 0 2.1-.3 1.4-.3 2.1-.9 3.5-2.1 4.2-3.5 4.2-4.5M166.6 638l.8 0 3.5 2.2 2.8 1.1 2.8 .4 1.4 0 2.1-.3 2.8-.9 3.5-2 3.5-2.8 3.5-3.5M166.6 638l.8 0 2.8 1.3 2.8 .7 2.1 .1 2.8-.4 2.8-1.1 2.8-1.5 2.8-2.2 2.8-2.6M166.6 638l.8 0 2.1 .6 2.1 .3 2.1-.1 2.1-.4 2.1-.8 2.8-1.5 2.1-1.5 2.8-2.5M166.6 638l2.9 .2 1.4-.1 1.4-.2 2.1-.6 3.5-1.7 2.1-1.5 2.1-1.8M52.9 859.3l4.2-.3 4.2-1.1 4.2-1.9 3.5-2.1 3.6-2.7 4.2-4 3.5-3.9 4.2-5.3 3.5-5 3.5-5.5 3.5-5.9 4.2-7.6 4.3-8.2 4.9-10.1 15.4-33.8 2.1-3.7 .7-.8 .7-.6 .7-.2 .7 .2 .7 .5 .7 .9 1.4 2.3 2.8 6.1 3.6 8.7 6.3 16.7 7 19.6 7 20.4 9.2 27.2 .7 0M52.9 860.5l4.2-.4 3.5-.8 4.2-1.8 3.5-2 3.6-2.6 4.2-3.8 3.5-3.7 4.2-5.2 3.5-4.9 4.2-6.4 3.5-5.9 4.2-7.5 7.1-13.6 12.6-26.4 3.5-6.8 1.4-2.4 1.4-1.9 1.4-1.4 1.4-.6 .7 0 1.4 .8 .7 .6 1.4 1.9 2.9 5.1 4.2 9.6 5.6 14.4 6.3 17.3 7 20.1 9.2 27 .7 0M52.9 862.7l4.2-.3 3.5-.9 3.5-1.4 3.5-1.9 3.6-2.4 3.5-3 3.5-3.5 3.5-4 3.5-4.5 3.5-5 3.5-5.4 4.2-7 6.4-11.5 13.3-26 4.9-8.9 2.1-3.2 2.1-2.4 1.4-1.2 .7-.3 1.4-.3 .7 0 1.4 .6 1.4 1.2 1.4 1.7 1.5 2.1 2.1 3.7 3.5 7.4 4.9 11.8 6.3 16.7 7 19.8 8.5 24.6 .7 0M60.6 864.8l2.8-1 2.8-1.4 2.8-1.7 2.9-2.1 2.8-2.4 2.8-2.7 2.8-3 3.5-4.3 2.8-3.7 3.5-5 6.3-10.1 6.4-11.1 12.6-23.3 4.9-8.1 2.8-3.8 2.1-2.2 2.1-1.4 1.4-.4 .7-.1 1.4 .3 1.4 .6 1.4 1.1 2.2 2.4 1.4 2.1 2.1 3.5 3.5 7 4.9 11.3 5.6 14.4 6.3 17.3 7.8 22.2 .7 0M69 864.9l4.3-3.1 4.2-3.9 4.2-4.6 4.2-5.2 4.9-6.9 5.6-8.8 5.7-9.4 11.9-20.9 5.6-8.9 2.8-3.7 2.8-2.8 1.4-1 1.4-.8 2.1-.4 1.4 .1 1.4 .5 1.4 .9 2.2 1.9 1.4 1.7 2.1 3 2.1 3.5 2.1 4 4.9 10.7 4.9 12 5.6 14.8 7.8 21.6 .7 0M75.4 865.1l3.5-3.4 4.2-4.7 4.2-5.3 4.2-5.9 7.7-12 14.8-24.6 5.6-8.4 3.5-4.2 2.8-2.6 1.4-.9 1.4-.7 2.1-.6 2.1 .2 1.4 .5 1.5 .8 2.1 1.7 1.4 1.5 2.1 2.8 3.5 5.6 4.2 8.3 4.2 9.4 6.3 15.8 7.8 20.8 .7 0M81 865.5l2.8-3.2 3.5-4.4 6.3-8.8 6.3-9.8 13.4-21.4 3.5-5.3 2.8-3.9 3.5-4.1 2.1-2.1 1.4-1.1 2.8-1.6 1.4-.5 1.4-.2 2.1 .1 1.5 .5 1.4 .7 2.1 1.6 1.4 1.3 2.1 2.5 2.1 3 2.1 3.4 3.5 6.5 4.2 8.9 5.6 13.4 7.1 18.2 .7 0M86.6 865.6l4.2-5.5 4.2-6 4.9-7.5 13.4-20.9 3.5-5.1 3.5-4.7 3.5-4 3.5-3.1 2.1-1.4 1.4-.6 1.4-.5 1.4-.2 2.2 .1 1.4 .4 1.4 .6 2.1 1.4 1.4 1.2 2.1 2.3 3.5 4.7 3.5 5.9 4.2 8.2 5.6 12.6 6.4 15.7 .7 0M92.2 865.6l7-10.2 14.8-22.6 3.5-5 3.5-4.6 4.2-4.6 3.5-3 2.1-1.3 1.4-.7 2.9-.6 2.1 0 1.4 .3 1.4 .5 2.1 1.2 1.4 1.1 2.1 2 3.5 4.3 3.5 5.4 3.5 6.4 4.9 10.2 6.4 14.8 .7 0M97.8 865.4l16.9-25.4 4.2-5.9 4.2-5.2 4.2-4.4 3.5-2.7 2.1-1.2 1.4-.6 2.9-.5 2.1 .1 1.4 .3 2.8 1.2 1.4 .9 2.1 1.8 3.5 3.9 2.8 3.9 3.5 5.8 4.9 9.5 5.7 12.3 .7 0M103.5 865.2l13.3-19.9 4.2-5.7 3.5-4.3 4.2-4.3 3.5-2.8 2.1-1.2 1.5-.6 2.8-.7 2.1-.1 1.4 .2 2.8 1 1.4 .8 2.1 1.5 3.5 3.5 2.8 3.6 3.5 5.4 4.2 7.5 5 10.1 .7 0M109.1 865l6.3-9.5 4.2-6 4.2-5.5 3.5-4 3.5-3.5 3.5-2.6 2.2-1.2 1.4-.6 2.8-.7 2.1-.1 1.4 .2 2.8 .9 2.8 1.7 1.4 1.1 2.1 2 2.8 3.2 2.8 3.9 4.2 6.9 4.3 8 .7 0M114 865.7l4.9-7.2 4.2-5.8 3.5-4.4 3.5-3.8 3.5-3.3 2.9-2 3.5-1.8 2.8-.7 2.8-.1 2.8 .7 2.8 1.4 2.8 2 2.8 2.8 2.8 3.4 3.5 5.1 4.3 7.2 .7 0M119.6 865.4l4.2-5.9 3.5-4.6 3.5-4.1 2.8-2.8 3.6-3 2.8-1.8 2.8-1.2 2.8-.6 2.8 0 2.8 .8 2.1 1 2.8 1.9 2.8 2.6 2.8 3.3 2.8 3.8 2.9 4.4 .7 0M125.2 865l3.5-4.6 2.8-3.4 2.8-3.1 2.9-2.7 2.8-2.2 2.8-1.7 2.8-1.1 2.1-.5 2.8-.1 2.1 .4 2.1 .8 2.1 1.2 2.1 1.5 2.1 1.9 2.8 3.1 3.6 4.7 .7 0M130.1 865.5l2.8-3.5 2.9-3.2 2.8-2.8 2.1-1.9 2.8-2 2.1-1.2 2.1-.9 2.1-.5 2.1-.2 2.1 .2 2.1 .5 2.1 1 2.1 1.3 2.1 1.7 2.1 2 2.9 3.2 .7 0M135.8 864.9l4.9-5.3 4.2-3.6 2.1-1.3 2.1-1.1 2.1-.7 1.4-.3 2.1-.2 1.4 .1 2.1 .5 1.4 .5 1.4 .7 2.1 1.3 2.1 1.7 2.2 2 .7 0M140.7 864.9l3.5-3.5 3.5-2.9 3.5-2.1 2.1-.8 1.4-.3 2.1-.3 1.4 0 2.8 .6 2.8 1.2 3.6 2.4 .7 0M144.9 865.4l3.5-3.3 2.8-2.1 2.8-1.6 2.8-1 2.8-.4 2.1 .1 2.8 .7 2.9 1.4 .7 0M149.1 865.3l2.8-2.5 2.1-1.5 2.8-1.6 2.1-.8 2.1-.5 2.1-.1 2.1 .3 2.2 .6 .7 0M153.3 864.8l2.1-1.8 2.1-1.4 2.1-1.2 1.4-.6 2.1-.5 1.4-.2 3.6 .1M166.6 859.2l.8 0 18.9-58.2 4.2-12.3 3.5-9.4 2.8-6.5 1.4-2.8 1.4-2.4 1.5-1.7 .7-.6 1.4-.7 .7-.1 1.4 .3 .7 .4 1.4 1.2 2.1 2.6 2.1 3.2 7 12.2 15.5 29.2 5.6 10.1 5.6 9.1 3.5 5 2.8 3.5 3.5 4 4.2 4.1 3.5 2.8 4.3 2.9 4.2 2.1 3.5 1.3 3.5 .7 3.5 .1M166.6 859.2l.8 0 18.2-55.6 4.2-12.1 3.5-9.2 2.8-6.4 1.4-2.7 1.4-2.3 1.5-1.7 1.4-1.2 .7-.3 1.4-.2 1.4 .4 .7 .3 2.1 1.9 2.1 2.5 2.8 4.2 7 12 14.8 27.4 5.6 9.9 5.6 8.8 2.8 3.9 2.8 3.6 3.5 3.9 4.2 4.1 3.5 2.8 4.3 2.8 4.2 2.2 3.5 1.2 3.5 .7 3.5 .2M166.6 859.2l.8 0 16.8-50.5 4.2-11.9 3.5-9 3.5-7.6 1.4-2.5 1.4-2 1.4-1.6 1.5-1.1 .7-.3 1.4-.3 2.1 .5 1.4 .8 1.4 1.2 2.8 3.2 2.8 3.9 3.5 5.5 4.2 7 14.1 25.4 5.6 9.6 2.8 4.5 2.8 4.1 2.8 3.7 2.8 3.4 3.5 3.8 3.5 3.3 3.5 2.9 4.3 2.8 4.2 2.1 3.5 1.2 3.5 .7 3.5 .2M166.6 859.2l.8 0 16.1-47.3 4.2-11.4 3.5-8.5 2.1-4.4 1.4-2.5 1.4-2.2 1.4-1.8 1.4-1.4 1.5-1 1.4-.4 1.4-.1 2.1 .7 1.4 .8 1.4 1.1 3.5 3.7 3.5 4.7 3.5 5.3 4.2 6.8 14.1 24.5 4.9 8.1 4.9 7.3 2.8 3.6 2.8 3.4 2.8 3 3.5 3.4 3.5 2.9 3.6 2.4 3.5 2 2.8 1.2 3.5 1.2 2.8 .5M166.6 859.2l.8 0 9.1-26.4 5.6-15.6 4.2-11 3.5-8.1 3.5-6.7 1.4-2.1 1.4-1.8 1.4-1.3 1.4-1 1.5-.6 2.1-.2 1.4 .3 1.4 .6 2.8 2 3.5 3.5 4.2 5.3 4.2 6 4.2 6.7 12.7 21.3 4.2 6.8 4.2 6.3 4.2 5.5 4.2 4.8 4.9 4.8 4.2 3.4 5 3.1M166.6 859.2l.8 0 7.7-21.7 5.6-15.1 4.2-10.6 3.5-7.7 3.5-6.4 2.8-3.7 1.4-1.4 1.4-1 1.4-.6 2.2-.3 1.4 .2 1.4 .4 1.4 .7 2.1 1.4 3.5 3.3 3.5 4 4.2 5.5 4.9 7.2 15.5 25.1 6.3 9.4 4.2 5.4 3.5 4 4.2 4.2 4.2 3.5M166.6 859.2l.8 0 7-19.1 5.6-14.4 4.2-9.9 3.5-7.1 2.1-3.6 1.4-2.1 1.4-1.8 1.4-1.4 1.4-1.2 1.4-.8 1.4-.5 2.2-.1 1.4 .2 2.1 .8 1.4 .8 2.1 1.5 4.2 4 4.2 4.9 4.2 5.5 4.2 6.1 14.1 22.1 5.6 8.3 5.6 7.3 2.8 3.2 2.8 2.9M166.6 859.2l.8 0 6.3-16.5 4.9-12 4.2-9.4 3.5-6.7 2.1-3.4 1.4-1.9 2.8-3.1 1.4-1.1 1.4-.8 1.4-.4 2.1-.2 1.5 .2 2.1 .7 2.1 1.2 2.1 1.5 4.2 3.9 4.9 5.5 4.2 5.4 4.9 6.9 13.4 20.5 4.2 6.2 3.5 4.8 3.5 4.3M166.6 859.2l.8 0 6.3-15.6 5.6-12.7 3.5-6.9 2.8-4.8 2.1-3 1.4-1.7 1.4-1.4 1.4-1.1 1.4-.9 1.4-.5 1.4-.3 1.4-.1 1.4 .2 2.2 .8 2.1 1.1 2.1 1.5 2.1 1.7 2.8 2.7 4.9 5.4 4.2 5.2 4.9 6.7 14.8 22.1 5.6 7.9M166.6 859.2l.8 0 5.6-13.1 4.9-10.4 3.5-6.5 2.8-4.4 2.1-2.7 1.4-1.6 1.4-1.3 1.4-1 1.4-.8 1.4-.5 1.4-.2 1.4 0 1.4 .2 2.1 .8 1.5 .7 2.1 1.4 2.1 1.6 2.8 2.6 4.9 5.1 4.9 5.9 5.6 7.4 4.9 7.1 10.6 15.6M166.6 859.2l.8 0 4.9-10.7 4.9-9.6 2.8-4.7 2.8-4.1 2.8-3.2 2.8-2.4 1.4-.7 1.4-.6 1.4-.3 1.4 0 1.4 .2 2.1 .7 1.4 .6 2.2 1.3 4.2 3.5 4.2 4.2 5.6 6.3 5.6 7.1 5.6 7.7 7.1 10.3M166.6 859.2l.8 0 4.2-8.5 3.5-6.4 3.5-5.6 2.8-3.7 2.8-2.9 2.8-2.1 1.4-.6 1.4-.5 1.4-.1 1.4 0 2.8 .7 1.4 .7 2.1 1.2 3.6 2.8 4.2 4.1 4.9 5.4 5.6 6.7 4.9 6.5 5.6 7.8M166.6 859.2l.8 0 3.5-6.5 3.5-5.8 2.8-4.1 2.8-3.3 2.8-2.6 2.8-1.8 2.1-.7 1.4-.2 1.4 0 2.8 .7 2.8 1.4 2.8 2.1 3.6 3.1 4.2 4.4 4.9 5.7 5.6 6.9 4.9 6.5M166.6 859.2l.8 0 2.8-4.7 2.8-4.3 2.8-3.7 2.8-3 2.8-2.3 2.1-1.2 2.1-.6 1.4-.2 1.4 0 2.1 .4 2.8 1.2 2.8 2 2.8 2.4 3.6 3.6 4.2 4.7 9.1 11.2M166.6 859.2l.8 0 2.8-4.2 2.8-3.6 2.8-3 2.1-1.9 2.8-1.7 2.1-.8 2.1-.4 2.1 .2 2.1 .5 2.1 1.1 2.1 1.3 2.8 2.4 2.8 2.8 2.9 3.1 8.4 10.3M166.6 859.2l.8 0 2.8-3.6 2.1-2.3 2.1-2 2.1-1.5 2.1-1.2 2.1-.7 2.1-.3 2.1 .1 2.1 .6 2.1 1.1 2.1 1.4 2.1 1.8 2.1 2 2.8 3.1 6.4 7.8M166.6 859.2l.8 0 2.1-2.3 2.1-1.9 2.1-1.6 2.1-1.2 2.1-.8 1.4-.3 2.1-.1 1.4 .2 1.4 .4 2.1 .9 1.4 .8 2.1 1.6 2.1 1.9 2.1 2.2 4.9 6M166.6 859.2l.8 0 3.5-2.9 2.1-1.2 1.4-.6 2.1-.5 1.4-.2 2.8 .3 2.8 1 1.4 .8 2.1 1.5 3.5 3.3 3.5 4.1M166.6 859.2l.8 0 2.8-1.7 2.8-1.1 2.8-.3 2.8 .3 2.8 1.1 2.8 1.9 2.8 2.4 2.8 3.1M166.6 859.2l.8 0 2.8-1.1 2.1-.3 2.1 0 2.1 .4 2.1 .8 2.8 1.8 2.1 1.7 2.8 2.9M166.6 859.2l4.3-.4 2.1 .2 2.1 .7 1.4 .6 2.1 1.3 2.1 1.7 2.1 2.1M166.6 859.2l2.2 0 1.4 .2 2.8 .9 2.8 1.6 3.5 2.9" stroke="#000" stroke-width="2.3" fill="none" stroke-linejoin="round"/>
<path d="M129.5 742.2l2.5 .3 2.5-.1 2.5-.5 4.8-1.4 18.1-5.4 35.7-12.4 2.4-.6 2.5-.5" stroke="#000" stroke-width="1.8" fill="none" stroke-linejoin="round" stroke-linecap="round"/><path d="M129.5 755.5l3.7-.3 1.2 0 2.4 .5 7.1 2 40.8 12.8 4.7 1.3 4.8 1 2.4-.1 2.4-.5" stroke="#000" stroke-width="1.8" fill="none" stroke-linejoin="round" stroke-linecap="round"/><path d="M127.2 741.6l9 2.8 12.8 3.4 5.4 1.6 9 3.1 18.6 6.6 9.1 2.9 1.8 .4 1.9 .3 4.7 .2 .9-.2 2.7-1.1 .9-.1 1.8 .3 .8 .5 .7 .7" stroke="#0000ff" stroke-width="1.75" fill="none" stroke-linejoin="round" stroke-linecap="round"/><path d="M127.2 755.8l4.6-1.1 18.2-5.4 8.1-2.5 7.1-2.6 6.2-2.4 8.7-3.7 4.5-1.6 4.5-1.2 13.9-3.1 2.7-.9 1.6-1" stroke="#0000ff" stroke-width="1.75" fill="none" stroke-linejoin="round" stroke-linecap="round"/><path d="M189.3 730.8V740.9" stroke="#0a3cff" stroke-width="2" fill="none"/><path d="M185.6 739.8L189.3 745.2L193 739.8z" fill="#0a3cff"/><path d="M189.3 756V765.9" stroke="#0a3cff" stroke-width="2" fill="none"/><path d="M185.6 764.8L189.3 770.2L193 764.8z" fill="#0a3cff"/>
</g>
<rect x="52.9" y="638" width="228.9" height="221.2" fill="none" stroke="#262626" stroke-width="1.8"/>
<path d="M110.12 859.2v-3.2M110.12 638v3.2M167.35 859.2v-3.2M167.35 638v3.2M224.58 859.2v-3.2M224.58 638v3.2M52.9 693.3h3.2M281.8 693.3h-3.2M52.9 748.6h3.2M281.8 748.6h-3.2M52.9 803.9h3.2M281.8 803.9h-3.2" stroke="#262626" stroke-width="1.5" fill="none"/>
<text x="45.3" y="644" font-size="16.5" text-anchor="end" font-family="'Liberation Serif', 'Times New Roman', serif" fill="#262626">1</text>
<text x="45.3" y="699.3" font-size="16.5" text-anchor="end" font-family="'Liberation Serif', 'Times New Roman', serif" fill="#262626">0.5</text>
<text x="45.3" y="754.6" font-size="16.5" text-anchor="end" font-family="'Liberation Serif', 'Times New Roman', serif" fill="#262626">0</text>
<text x="45.3" y="809.9" font-size="16.5" text-anchor="end" font-family="'Liberation Serif', 'Times New Roman', serif" fill="#262626">-0.5</text>
<text x="45.3" y="865.2" font-size="16.5" text-anchor="end" font-family="'Liberation Serif', 'Times New Roman', serif" fill="#262626">-1</text>
<text x="52.6" y="880.4" font-size="16.5" text-anchor="middle" font-family="'Liberation Serif', 'Times New Roman', serif" fill="#262626">0</text>
<text x="110.23" y="880.4" font-size="16.5" text-anchor="middle" font-family="'Liberation Serif', 'Times New Roman', serif" fill="#262626" letter-spacing="0.8">π/2</text>
<text x="167.05" y="880.4" font-size="16.5" text-anchor="middle" font-family="'Liberation Serif', 'Times New Roman', serif" fill="#262626">π</text>
<text x="224.68" y="880.4" font-size="16.5" text-anchor="middle" font-family="'Liberation Serif', 'Times New Roman', serif" fill="#262626" letter-spacing="0.8">3π/2</text>
<text x="281.9" y="880.4" font-size="16.5" text-anchor="middle" font-family="'Liberation Serif', 'Times New Roman', serif" fill="#262626" letter-spacing="0.8">2π</text>
<clipPath id="clipf"><rect x="365.3" y="636.7" width="232.7" height="219"/></clipPath>
<g clip-path="url(#clipf)">
<path d="M365.3 636.6l2.8 .1 2.8 .7 2.8 1.3 2.8 1.7 3.6 2.6 4.2 3.6 4.9 4.7 4.2 4.5 5.6 6.5 4.3 5.6 4.9 7.2 11.9 18.3 7.8 10.6 15.4 19.9 1.4 1.4 1.4 1.1 1.5 .7 .7 0 1.4-.2 .7-.4 .7-.6 1.4-1.8 2.1-4 2.1-5.1 4.2-12.5 9.2-30 4.9-15.6 6.3-19.2 .7-1M365.3 635.9l2.8 .1 2.8 .7 2.8 1.3 2.8 1.7 3.6 2.6 3.5 3 4.9 4.6 4.2 4.3 5.6 6.4 4.3 5.5 4.9 7.1 12.6 19.1 4.3 5.9 4.2 5.5 11.9 15 2.8 3.3 1.4 1.4 1.4 1.1 1.5 .6 1.4 .1 1.4-.5 .7-.5 .7-.7 1.4-2 2.1-4.1 2.1-5.2 4.2-12.4 13.4-43 6.3-19.1 .7-1M365.3 634.5l2.8 .1 2.8 .7 2.8 1.3 2.8 1.6 3.6 2.6 3.5 3 4.2 3.9 4.2 4.3 5.6 6.2 5 6.3 4.9 7 11.9 17.8 4.3 5.8 4.2 5.4 11.9 14.3 3.5 3.9 1.4 1.3 1.4 1 1.5 .6 1.4 .3 1.4-.3 .7-.4 .7-.6 1.4-1.6 2.1-3.7 2.8-6.5 4.2-12.2 9.2-29.1 4.9-15.1 4.9-14.7 .7-1M365.3 632.4l2.1 .1 2.8 .5 2.8 1.1 2.8 1.6 3.6 2.5 3.5 2.8 4.2 3.9 4.2 4.1 5.6 6.1 5 6.1 4.9 6.7 12.6 18.5 3.5 4.7 4.3 5.2 10.5 12.1 4.9 5.3 2.1 1.9 1.4 1 1.5 .6 1.4 .4 1.4-.1 1.4-.7 .7-.6 1.4-1.6 2.1-3.5 2.8-6.2 4.2-11.7 9.9-30.4 5.6-16.8 2.8-8.3 .7-1M372.3 631.1l2.1 1.1 2.1 1.2 5 3.7 5.6 5 6.3 6.2 4.9 5.5 4.3 5.2 4.2 5.8 11.9 17 4.2 5.5 4.3 5 10.5 11.4 5.6 5.7 2.1 1.7 1.5 .8 1.4 .6 1.4 .3 1.4-.2 1.4-.7 2.1-2 2.1-3.3 2.8-5.9 2.1-5.3 2.8-7.8 9.9-29.5 7-20.4 .7-1M378 631.1l4.2 3.2 5.6 5 5.6 5.5 4.9 5.4 6.4 7.9 11.2 15.7 4.2 5.6 4.3 5.1 4.9 5.5 9.8 10 4.9 4.6 2.1 1.6 1.5 .7 1.4 .6 1.4 .2 1.4-.2 1.4-.6 2.1-1.9 2.1-3 2.8-5.5 4.2-10.6 16.9-48.2 .7-1M382.9 631l4.2 3.7 4.9 4.7 4.2 4.3 3.5 4 5.7 7 13.3 18.1 4.2 5.1 5 5.4 10.5 10.4 5.6 5.2 2.1 1.6 1.5 .9 2.1 .9 1.4 .2 1.4-.2 1.4-.6 2.1-1.7 2.1-2.8 2.8-5.1 2.1-4.7 2.8-7 15.5-42.7 .7-1M387.8 630.8l6.3 6 6.4 6.9 4.9 6.1 12.6 16.7 4.2 5.1 4.3 4.6 11.9 11.6 6.3 5.7 2.2 1.6 2.1 1.2 1.4 .5 1.4 .3 1.4-.1 1.4-.5 2.1-1.6 1.4-1.6 1.4-2 2.8-5 2.1-4.6 2.8-6.8 14.1-37.2 .7-1M393.4 630.9l4.2 4.4 4.3 4.7 16.1 20.7 3.5 4.2 4.3 4.5 5.6 5.5 13.3 12.3 2.2 1.7 2.1 1.3 2.1 1 1.4 .3 1.4 0 1.4-.4 2.1-1.4 1.4-1.4 1.4-1.8 2.8-4.6 2.8-5.7 2.8-6.5 5-12.2 7.7-19.9 .7-.9M399 630.9l5.7 6.6 13.3 16.9 3.5 4.1 4.3 4.5 5.6 5.4 14.7 13.5 2.9 2.1 1.4 .8 2.1 .9 1.4 .2 1.4-.1 1.4-.4 2.1-1.4 1.4-1.4 1.4-1.8 2.8-4.4 2.8-5.5 2.9-6.1 4.9-11.6 6.3-15.6 .7-.9M404.7 631.1l14 17.4 4.2 4.7 4.3 4.3 17.5 16.5 2.9 2.4 2.1 1.7 2.1 1.3 2.1 .7 1.4 .2 1.4-.1 1.4-.5 2.1-1.4 2.1-2.2 2.8-4 2.8-4.9 2.9-5.7 4.9-10.8 5.6-13.2 .7-.8M410.3 631.1l9.1 11.2 4.3 4.6 4.2 4.1 21.1 19.9 3.5 2.6 2.1 .9 1.4 .3 1.4 0 1.4-.3 2.1-1.1 2.1-1.8 2.8-3.5 2.8-4.4 2.9-5.2 4.9-10 4.9-10.9 .7-.8M415.9 631l4.9 5.7 4.3 4.4 13.3 12.6 11.3 11.2 2.1 1.9 2.1 1.4 2.1 .9 1.4 .4 1.4 0 1.4-.3 2.1-1.1 2.1-1.7 2.8-3.3 2.9-4.1 2.8-4.8 4.2-8 4.2-8.7 .7-.8M422.2 630.9l5 5.1 11.2 10.7 10.6 11 2.8 2.8 2.1 1.7 1.4 1 2.1 1 1.4 .3 2.1-.1 1.4-.4 1.4-.7 2.1-1.6 2.8-3 2.2-2.9 2.8-4.3 3.5-6 4.2-8.1 .7-.7M429.3 630.8l9.8 9.6 11.3 12.4 2.8 2.9 2.1 1.8 1.4 1 2.1 1 1.4 .3 2.1 0 2.1-.6 2.1-1.3 2.8-2.5 2.2-2.5 2.8-3.8 3.5-5.6 3.5-6.1 .7-.7M436.3 630.5l5.6 6 9.2 10.9 3.5 3.8 2.1 1.9 1.4 1 2.1 1 1.4 .4 2.1 .1 2.1-.6 2.1-1.1 2.2-1.6 2.1-2.1 2.8-3.4 2.8-3.9 3.5-5.6 .7-.6M442.6 630.7l9.9 12.4 3.5 4 2.1 1.9 2.1 1.5 2.1 .9 1.4 .3 1.4 0 2.1-.4 2.1-1 2.2-1.4 2.1-1.9 2.1-2.3 2.8-3.5 2.8-4 .7-.5M447.6 630.5l6.3 8.6 2.1 2.6 2.1 2.3 2.1 1.8 1.4 1 2.1 1 1.4 .4 1.4 .1 2.1-.3 2.2-.8 2.1-1.3 3.5-3 2.1-2.2 2.8-3.5 .7-.5M451.8 630.5l4.9 6.8 3.5 3.9 2.1 1.8 1.4 .9 1.4 .7 1.4 .4 1.4 .2 2.2-.1 1.4-.4 2.1-.9 1.4-.9 2.1-1.6 2.1-1.9 2.1-2.3 .7-.4M456 631.2l3.5 4.7 2.8 3 2.1 1.7 1.4 .9 1.4 .6 1.4 .4 1.5 .1 1.4 0 1.4-.3 2.1-.7 2.8-1.7 3.5-2.9 .7-.3M458.8 630.3l2.8 3.7 2.8 3 2.8 2 1.4 .7 1.5 .5 1.4 .2 1.4 .1 2.8-.5 2.8-1.2 2.8-1.8 .7-.3M462.3 630.8l2.8 3.3 2.1 1.9 2.1 1.4 2.2 .9 2.1 .5 2.8-.1 2.1-.5 3.5-1.5M465.1 630.7l2.1 2.3 1.4 1.3 2.2 1.5 2.1 1 2.1 .6 2.1 .2 2.1-.2 2.8-.7M467.9 630.8l1.4 1.5 2.2 1.8 1.4 .9 2.1 1.1 1.4 .4 2.1 .4 3.5-.2M481.3 636.7l.7 .9 9.1 23.8 7.1 17.5 4.2 9.7 3.5 7.1 3.5 6 2.1 2.9 1.4 1.6 2.1 1.8 1.4 .9 1.5 .5 2.1 .2 2.8-.3 1.4-.3 1.4-.5 2.1-1.2 2.1-1.5 2.8-2.5 4.9-5.3 5-6.2 4.9-7 4.9-7.7 12-19.2 5.6-7.3 2.8-3.2 2.8-2.9 2.8-2.4 2.8-2 2.8-1.6 2.9-1.2 2.8-.7 2.8-.4 2.8 0 2.8 .4M481.3 636.7l.7 .9 9.1 23.7 6.4 15.7 4.2 9.7 4.2 8.6 3.5 5.8 2.1 2.8 1.4 1.5 2.1 1.8 1.4 .7 1.5 .5 2.1 .2 4.2-.7 1.4-.5 2.1-1.2 2.1-1.5 2.8-2.5 4.9-5.2 5-6.2 5.6-8 16.2-25.6 5.6-7.4 2.8-3.2 2.8-2.8 2.8-2.4 2.8-2 2.8-1.6 2.9-1.2 2.8-.7 2.8-.4 2.8 0 2.8 .4M481.3 636.7l.7 .9 9.1 23.5 6.4 15.4 4.2 9.5 3.5 7 3.5 5.9 2.1 2.8 1.4 1.5 2.1 1.8 1.4 .9 1.5 .5 2.1 .3 1.4-.1 3.5-.7 1.4-.6 2.1-1.2 2.1-1.5 2.8-2.5 4.9-5.1 5-6.1 5.6-7.9 4.2-6.4 12-18.9 5.6-7.3 2.8-3.2 2.8-2.8 2.8-2.4 2.8-2 2.8-1.6 2.9-1.2 2.8-.7 2.8-.4 2.8 0 2.8 .4M481.3 636.7l.7 .9 8.4 21.4 6.4 15.2 4.2 9.4 4.2 8.1 3.5 5.5 2.1 2.6 1.4 1.4 1.4 1.1 2.1 1.1 1.5 .5 2.1 .1 1.4-.2 3.5-.9 1.4-.6 2.1-1.2 2.1-1.5 2.8-2.4 4.9-5.1 5-5.9 5.6-7.7 16.9-26 5.6-7.1 4.9-5.1 2.8-2.4 2.8-2 2.8-1.5 2.9-1.2 2.8-.8 2.8-.3 2.8 0 2.8 .3M481.3 636.7l.7 .9 7.7 19.3 6.4 14.9 4.2 9.1 4.2 7.9 3.5 5.3 2.1 2.5 1.4 1.4 1.4 1 2.1 1.2 1.4 .4 2.2 .1 1.4-.1 3.5-1 1.4-.6 2.1-1.1 4.2-3.1 4.9-4.7 5-5.6 5.6-7.3 5.6-8.2 12-18.4 4.9-6.3 4.2-4.7 4.2-3.8 3.5-2.6 2.1-1.2 2.1-.9M481.3 636.7l.7 .9 7 17.2 6.4 14.5 4.2 8.8 4.2 7.6 3.5 5.1 2.1 2.4 1.4 1.2 1.4 1 2.1 1.1 1.4 .4 2.2 .1 2.1-.3 3.5-1.2 3.5-1.8 2.1-1.4 2.8-2.3 2.8-2.6 2.8-2.9 5-5.7 5.6-7.4 4.9-7.1 11.3-17.1 2.8-3.7 3.5-4.2 2.8-3 3.5-3.2 2.8-2.2M481.3 636.7l.7 .9 7 16.7 5.7 12.5 4.2 8.4 4.2 7.3 3.5 4.8 2.1 2.2 1.4 1.2 1.4 .9 2.1 .9 1.4 .4 2.2 0 2.1-.3 3.5-1.3 2.1-1 2.1-1.2 2.8-2.1 2.8-2.3 5.6-5.6 5-5.7 5.6-7.4 16.2-23.7 4.9-6 4.9-5.2M481.3 636.7l.7 .8 6.3 14.7 5.7 12 4.2 8.1 3.5 5.8 3.5 4.7 2.1 2.2 1.4 1.1 1.4 1 2.1 1 1.4 .3 2.1 .2 2.2-.3 2.1-.7 3.5-1.6 2.8-1.6 2.8-2 2.8-2.3 5.6-5.4 5-5.5 4.9-6.2 5.6-7.8 11.3-16.5 3.5-4.4 2.8-3.3M481.3 636.7l.7 .8 5.6 12.6 5.6 11.5 4.3 7.6 3.5 5.5 3.5 4.3 2.1 1.9 1.4 1.1 1.4 .8 2.1 .8 1.4 .3 2.1 0 2.2-.3 2.1-.8 4.2-2.1 2.1-1.3 2.8-2 2.8-2.3 2.8-2.6 3.5-3.5 5-5.4 5.6-7 4.9-6.8 11.3-16.2 2.1-2.7M481.3 636.7l.7 .8 5.6 12 4.9 9.5 3.6 6 3.5 5.2 3.5 4.2 2.1 1.9 1.4 1 1.4 .8 2.1 .8 1.4 .2 2.1 .1 2.1-.4 2.2-.7 2.1-1.1 4.2-2.5 2.8-1.9 2.8-2.3 5.6-5.1 6.4-6.8 5.6-6.9 5.6-7.6 9.1-13M481.3 636.7l.7 .7 4.9 10 4.9 9 3.6 5.6 3.5 4.8 3.5 3.7 2.1 1.6 1.4 .9 2.8 1.1 1.4 .2 2.1 0 1.4-.2 2.1-.7 2.2-.9 2.1-1.2 6.3-4.4 3.5-2.9 3.5-3.2 6.3-6.5 5.7-6.5 5.6-7.3 7-9.8M481.3 636.7l.7 .7 4.9 9.3 4.2 7.2 3.6 5.2 2.8 3.5 3.5 3.4 2.8 1.9 2.8 1.2 1.4 .3 2.1 0 1.4-.1 2.1-.6 2.1-.9 2.2-1.2 6.3-4.4 5.6-4.7 6.3-6.2 5.7-6.1 5.6-6.8 5.6-7.5M481.3 636.7l.7 .7 4.2 7.5 4.2 6.6 3.6 4.7 2.8 3.1 2.1 1.9 1.4 1.1 2.8 1.5 2.8 .8 2.8 .1 1.4-.2 2.1-.6 3.5-1.8 3.6-2.4 7-5.7 5.6-5.2 5.6-5.7 5.7-6.4 4.9-6.1M481.3 636.7l.7 .6 4.2 6.9 3.5 5 2.8 3.5 2.9 2.8 2.8 2.3 2.8 1.6 2.8 .8 2.8 .1 2.8-.6 2.8-1.1 2.8-1.7 3.6-2.6 7-6.1 4.9-4.7 6.3-6.5 5.7-6.4M481.3 636.7l.7 .6 3.5 5.2 2.8 3.7 2.8 3.2 2.9 2.7 2.8 2 2.8 1.4 2.8 .6 2.8 0 2.1-.5 2.8-1.1 2.8-1.7 2.8-2.1 3.6-3 7-6.6 4.9-5 4.9-5.2M481.3 636.7l.7 .5 3.5 4.7 2.8 3.2 2.8 2.7 2.1 1.7 2.9 1.6 2.1 .8 2.1 .4 2.8 0 2.1-.5 2.8-1.1 2.1-1.2 2.8-2.1 5-4.3 11.9-12.1M481.3 636.7l.7 .5 2.8 3.3 2.8 2.9 2.1 1.7 2.1 1.5 2.9 1.4 2.1 .7 2.1 .2 2.1-.1 2.1-.4 2.1-.9 2.1-1.1 2.8-1.9 2.8-2.4 2.8-2.7 8.5-8.9M481.3 636.7l.7 .4 2.8 2.9 2.1 1.8 3.5 2.3 2.1 .9 2.2 .6 2.1 .3 2.1-.2 2.1-.4 2.1-.9 2.1-1.1 2.1-1.5 2.1-1.7 2.8-2.6 6.4-6.8M481.3 636.7l.7 .3 2.1 1.9 2.1 1.5 3.5 1.8 2.1 .7 1.4 .2 2.2 .1 1.4-.1 1.4-.3 2.1-.8 2.1-1.1 2.1-1.3 4.2-3.6 4.9-5.2M481.3 636.7l.7 .3 3.5 2.2 2.1 .9 1.4 .5 2.1 .3 1.4 .1 2.9-.3 2.8-1 3.5-2 3.5-2.9 4.2-4.3M481.3 636.7l3.5 1.6 2.8 .7 2.8 .2 2.8-.4 2.9-1 2.8-1.6 2.8-2.2 3.5-3.3M481.3 636.7l2.8 .8 2.1 .4 2.8-.1 2.1-.4 2.1-.8 2.9-1.5 2.1-1.5 2.8-2.5M481.3 636.7l2.1 .3 2.1 .1 2.1-.3 2.1-.6 2.1-.9 2.2-1.3 2.1-1.5 2.1-1.9M481.3 636.7l2.1 0 1.4-.2 2.8-.8 3.5-1.9 3.6-2.6M365.3 855.9l3.5-.2 4.2-.9 4.3-1.7 4.2-2.4 3.5-2.6 4.2-3.6 4.2-4.4 4.2-5 4.3-5.6 4.2-6.2 4.2-6.8 4.2-7.3 7.7-14.6 12-24.7 3.5-6.7 1.4-2.2 1.4-1.7 1.4-.9 .7-.1 .7 .1 1.4 .9 2.2 3 2.8 5.6 3.5 8.3 4.2 10.9 4.9 13.3 8.5 23.7 10.5 30.6 .7 1.1M365.3 856.8l3.5-.2 4.2-.9 3.5-1.3 4.3-2.3 3.5-2.4 4.2-3.6 4.2-4.2 4.2-4.8 4.3-5.5 3.5-5 4.2-6.6 4.2-7 7-12.9 12.7-25 4.2-7.6 1.4-2.2 1.4-1.7 1.4-1.1 1.4-.5 .7 0 1.4 .7 1.4 1.4 1.5 2 2.8 5.2 3.5 7.9 4.2 10.5 4.9 13.1 7.8 21.5 10.5 30.4 .7 1.1M365.3 858.7l3.5-.2 3.5-.7 3.5-1.2 4.3-2.2 3.5-2.3 4.2-3.4 3.5-3.3 4.2-4.6 3.5-4.3 4.3-5.7 4.2-6.3 4.2-6.7 6.3-11 13.4-25.1 4.2-7.2 2.1-3.1 2.1-2.3 1.4-1 .7-.3 1.4-.3 .7 .1 1.4 .7 1.5 1.2 1.4 1.6 1.4 2.2 2.1 3.7 3.5 7.5 4.2 10.1 4.9 12.8 7.1 19.3 9.8 28 .7 1.1M368.8 861.2l2.8-.5 3.5-1.1 3.6-1.6 3.5-2.1 3.5-2.6 3.5-3 3.5-3.5 3.5-3.9 3.5-4.3 3.6-4.7 7-10.5 7-11.7 13.4-23.7 4.2-6.7 2.1-2.9 2.1-2.3 2.1-1.6 2.1-.7 1.4 .1 1.4 .5 1.5 1 1.4 1.4 1.4 1.8 2.1 3.3 3.5 6.8 4.2 9.4 4.9 12.3 7.1 18.7 9.1 25.7 .7 1M378.7 861.6l4.9-3 4.9-4 4.9-4.8 5.6-6.4 5.7-7.4 6.3-9.4 6.3-10.2 12-20.3 4.9-7.5 2.8-3.6 2.8-2.8 2.1-1.3 2.1-.7 1.4 .1 1.5 .4 1.4 .8 2.1 1.9 1.4 1.7 2.1 3.1 3.5 6.3 4.2 9 4.9 11.7 6.4 16.4 8.4 23.2 .7 1M385.7 861.3l4.2-3.5 4.9-5 4.2-4.8 5-6.3 4.2-5.9 4.9-7.4 16.9-27.1 2.8-4.2 2.8-3.7 2.8-3.1 2.1-1.7 1.4-.9 1.4-.6 2.1-.4 1.5 .2 1.4 .4 1.4 .9 2.1 1.8 1.4 1.5 2.1 2.9 2.1 3.4 2.1 3.8 4.2 8.7 4.2 9.8 6.4 15.9 7 18.8 .7 1M391.3 861.7l3.5-3.6 4.2-4.7 4.3-5.2 3.5-4.8 7.7-11.3 14.1-21.9 3.5-5.1 2.8-3.7 2.8-3.2 2.8-2.5 2.8-1.7 1.4-.5 1.4-.2 2.2 .2 1.4 .5 1.4 .8 2.1 1.6 1.4 1.5 2.1 2.6 3.5 5.5 4.2 8 4.2 9.2 5.7 13.5 7 18.1 .7 1M396.9 861.9l5.7-6.7 6.3-8.4 6.3-9.2 13.4-20.2 3.5-4.9 2.8-3.6 3.5-3.9 2.8-2.5 2.1-1.3 1.4-.7 1.4-.4 1.5-.2 2.1 .2 1.4 .5 1.4 .7 2.1 1.5 1.4 1.3 2.1 2.5 3.5 5.1 3.5 6.1 4.2 8.6 5.7 12.8 6.3 15.7 .7 .9M402.6 862l4.2-5.4 4.2-5.7 17.6-25.8 3.5-4.9 3.5-4.4 3.5-3.8 3.5-3 2.1-1.3 1.4-.6 1.5-.4 1.4-.2 2.1 .2 1.4 .3 1.4 .7 2.1 1.3 1.4 1.2 2.1 2.3 3.5 4.6 3.5 5.8 4.3 8.1 4.9 10.6 5.6 13.3 .7 .9M408.9 861.3l6.3-8.8 14.1-20.5 3.5-4.7 3.5-4.4 4.2-4.5 3.5-2.9 2.1-1.2 1.5-.6 2.8-.7 2.1 .1 1.4 .3 1.4 .5 2.1 1.2 1.4 1.1 2.1 2 3.5 4.2 3.5 5.4 3.6 6.2 4.9 9.9 4.9 11 .7 .9M414.5 861.5l16.2-23.3 4.2-5.6 3.5-4.2 4.2-4.2 3.5-2.7 2.2-1.1 1.4-.6 2.8-.5 2.1 0 1.4 .4 2.8 1.2 1.4 .9 2.1 1.8 3.5 3.8 3.5 4.9 3.6 5.9 4.2 7.9 4.2 8.9 .7 .8M420.1 861.5l12.7-18.1 4.2-5.4 3.5-4.1 3.5-3.5 3.6-2.7 2.1-1.2 1.4-.6 2.8-.7 2.1-.1 1.4 .2 2.8 1 2.8 1.8 3.5 3.2 2.8 3.4 3.6 5 4.2 7.2 4.2 8.1 .7 .8M425.8 861.5l5.6-8.1 4.2-5.8 4.2-5.3 3.5-3.8 3.6-3.3 2.8-2.1 2.1-1.2 1.4-.6 2.8-.7 2.8 0 2.8 .8 2.8 1.4 1.4 1 2.1 1.9 2.9 3 3.5 4.7 3.5 5.5 3.5 6.2 .7 .7M431.4 861.3l4.2-5.9 4.2-5.5 3.5-4.2 3.6-3.6 2.8-2.5 2.8-1.9 2.8-1.3 2.8-.8 2.8 0 2.8 .6 2.8 1.4 2.8 2 2.9 2.8 2.8 3.3 2.8 3.9 3.5 5.6 .7 .6M436.3 862.1l3.5-4.8 3.5-4.5 3.6-4 2.8-2.7 2.8-2.4 2.8-1.8 2.8-1.2 2.1-.5 2.8-.2 2.8 .6 2.1 .9 2.9 1.7 2.1 1.7 2.8 2.9 2.8 3.4 2.8 4 .7 .6M441.9 861.7l5.7-7 2.8-3 2.8-2.6 2.8-2.1 2.1-1.3 2.8-1.2 2.1-.4 2.8-.1 2.1 .4 2.2 .8 2.1 1.1 2.1 1.5 2.1 1.9 2.1 2.2 2.8 3.4 .7 .5M446.9 862l4.9-5.8 2.8-2.7 2.1-1.8 2.1-1.5 2.1-1.2 2.1-.9 2.1-.5 2.1-.2 2.1 .2 1.5 .3 2.1 .8 2.1 1.1 2.1 1.5 2.1 1.9 2.1 2.2 .7 .4M452.5 861.2l4.2-4.4 3.5-2.9 2.1-1.4 2.1-1.1 2.1-.7 1.4-.3 2.2-.2 1.4 .1 2.8 .7 1.4 .6 2.1 1.1 3.5 2.7 .7 .4M456.7 861.8l3.5-3.5 2.8-2.2 3.5-2.1 2.8-1.1 2.2-.3 1.4-.1 2.8 .4 2.8 1 2.8 1.6 .7 .3M461.6 861.3l2.8-2.5 2.8-2 2.9-1.5 2.1-.7 2.8-.4 2.1 .1 2.1 .5 2.8 1M465.1 861.7l2.1-1.9 2.1-1.5 2.2-1.3 2.1-.9 2.1-.6 2.1-.2 2.1 .1 2.1 .4M468.6 861.5l3.6-2.8 3.5-1.9 2.8-.8 1.4-.2 2.1 0M481.3 855.8l.7-1 9.1-24.6 7.1-18 4.2-10 4.2-9.1 3.5-6.4 2.1-3.1 1.4-1.8 2.1-2 1.5-.9 1.4-.6 1.4-.3 2.8 .3 1.4 .5 1.4 .7 1.4 1 2.1 1.9 3.5 4.1 3.5 4.8 5 7.4 15.4 25.1 5.6 8.7 5.7 7.3 4.9 5.4 3.5 3.3 2.8 2.1 2.8 1.9 3.5 1.7 2.9 1 3.5 .7 2.8 .2 3.5-.2M481.3 855.8l.7-1 8.4-22.6 7.1-17.9 4.2-10 4.2-9.1 2.1-4 2.1-3.5 2.1-3 1.4-1.7 2.1-1.9 1.5-.8 1.4-.5 1.4-.2 2.8 .3 1.4 .5 1.4 .8 1.4 1 2.1 1.9 3.5 3.9 3.5 4.7 5 7.3 15.4 24.9 5.6 8.7 5.7 7.2 4.9 5.4 3.5 3.2 2.8 2.2 2.8 1.8 3.5 1.8 2.9 .9 3.5 .8 2.8 .2 3.5-.3M481.3 855.8l.7-1 8.4-22.3 7.1-17.6 4.2-9.7 4.2-8.7 3.5-6 2.1-2.9 1.4-1.6 2.1-1.9 1.4-.9 1.5-.5 2.1-.2 3.5 .7 1.4 .6 1.4 .9 1.4 1.1 2.1 2 3.5 4 4.2 5.7 4.3 6.2 14.7 23.4 5.6 8.5 5.7 7.2 4.9 5.3 3.5 3.2 2.8 2.2 2.8 1.8 3.5 1.7 2.9 1 3.5 .7 2.8 .2 3.5-.2M481.3 855.8l.7-1 8.4-21.9 6.4-15.4 4.2-9.5 4.2-8.3 3.5-5.7 2.1-2.8 1.4-1.5 2.1-1.8 1.4-.8 1.5-.5 2.1-.3 1.4 .2 2.8 .8 2.8 1.6 3.5 3.1 3.5 3.9 4.2 5.4 4.3 6 15.4 23.9 4.9 7.4 4.3 5.4 4.2 4.8 4.9 4.7 2.8 2.2 2.1 1.5 2.1 1.2 2.8 1.3 2.2 .8 2.8 .7M481.3 855.8l.7-1 7-17.9 6.4-15.1 4.2-9.2 4.2-8.2 2.1-3.5 2.1-3.1 2.1-2.5 1.4-1.4 2.1-1.6 1.4-.8 1.4-.4 2.2-.2 1.4 .2 2.1 .6 2.8 1.3 3.5 2.7 3.5 3.5 4.2 5 5 6.7 4.9 7.2 13.3 20.2 2.8 4.1 2.9 3.6 4.2 4.9 4.2 4.3 4.2 3.6 4.2 2.8M481.3 855.8l.7-.9 7-17.4 5.7-13 4.2-8.8 4.2-7.6 2.1-3.3 2.1-2.8 2.1-2.4 1.4-1.2 2.1-1.4 1.4-.7 1.4-.3 2.2-.1 2.1 .4 2.1 .8 1.4 .6 2.1 1.3 3.5 2.9 4.2 4.4 4.2 5.2 5 6.6 19.6 28.8 3.6 4.4 3.5 4 3.5 3.6 2.8 2.5M481.3 855.8l.7-.9 6.3-15.1 5.7-12.4 4.2-8.4 3.5-6 2.1-3.2 2.1-2.7 2.1-2.2 1.4-1.2 2.1-1.4 1.4-.6 1.4-.4 2.1-.1 1.5 .2 2.1 .6 2.8 1.4 2.1 1.2 2.1 1.6 2.1 1.9 4.2 4.4 4.9 5.9 5 6.6 18.9 27.1 4.3 5.2 4.2 4.6M481.3 855.8l.7-.9 6.3-14.4 4.9-10.3 4.3-7.8 3.5-5.6 3.5-4.4 2.1-2.1 1.4-1.2 2.1-1.2 1.4-.6 1.4-.4 2.1-.1 1.4 .2 2.2 .6 2.1 .9 2.8 1.7 2.1 1.5 2.1 1.7 4.9 5 4.2 4.9 5 6.3 4.9 6.7 13.3 18.9 5 6.4M481.3 855.8l.7-.8 4.9-10.8 4.9-9.8 4.3-7.4 3.5-5.3 3.5-4.2 2.1-1.9 1.4-1 1.4-.9 2.1-.8 1.4-.3 2.1-.1 2.1 .3 2.2 .8 2.1 1.1 2.8 1.8 4.2 3.3 4.2 4.1 4.9 5.6 5.7 7.1 18.2 25.3M481.3 855.8l.7-.8 4.9-10.1 4.9-9 3.6-5.6 3.5-4.7 3.5-3.6 2.1-1.6 1.4-.8 2.8-1.1 1.4-.2 2.1 0 1.4 .2 2.1 .6 3.6 1.9 4.9 3.6 4.9 4.5 4.9 5.4 5.6 6.8 6.4 8.4 8.4 11.7M481.3 855.8l.7-.8 4.2-8 4.2-7.3 3.6-5.2 3.5-4.3 3.5-3.2 2.8-1.9 2.8-1 1.4-.2 2.1-.1 1.4 .3 2.1 .6 3.6 1.7 3.5 2.6 5.6 4.8 4.9 5.2 4.9 5.7 5.7 7.1 7 9.5M481.3 855.8l.7-.7 4.2-7.4 3.5-5.4 3.5-4.7 2.9-3.1 3.5-2.9 2.8-1.5 2.8-.9 2.8-.1 1.4 .2 2.1 .7 3.5 1.7 3.6 2.5 4.9 4.3 4.2 4.3 4.9 5.5 4.9 6 5.7 7.2M481.3 855.8l.7-.6 3.5-5.7 3.5-4.9 2.8-3.4 2.9-2.7 2.8-2.2 2.8-1.4 2.8-.8 2.8 0 2.8 .6 2.8 1.2 2.8 1.7 3.6 2.8 5.6 5.4 3.5 3.7 4.9 5.6 5.6 7M481.3 855.8l.7-.6 3.5-5 2.8-3.4 2.8-2.9 2.1-1.8 2.9-1.9 2.8-1.2 2.1-.4 2.8 0 2.8 .6 2.8 1.3 2.8 1.8 2.8 2.2 3.6 3.3 4.9 5.1 7.7 9M481.3 855.8l.7-.5 2.8-3.6 2.8-3 2.1-1.9 2.1-1.5 2.9-1.6 2.1-.7 2.1-.4 2.8 .1 2.1 .5 2.8 1.1 2.1 1.3 2.8 2 2.8 2.5 2.9 2.8 7.7 8.7M481.3 855.8l.7-.5 2.8-2.9 2.1-1.9 2.1-1.6 2.1-1.2 2.1-.9 2.2-.5 2.1-.2 2.1 .2 2.1 .6 2.1 .8 2.1 1.2 2.8 2.1 2.1 1.8 2.8 2.7 5.7 6.3M481.3 855.8l.7-.4 2.1-1.9 2.1-1.5 3.5-1.9 2.1-.6 1.4-.3 1.5 0 2.1 .1 1.4 .3 2.1 .8 2.1 1 2.1 1.4 4.2 3.5 4.9 5.2M481.3 855.8l.7-.3 3.5-2.2 2.8-1.1 2.8-.5 1.4 0 2.2 .2 1.4 .4 2.1 .8 3.5 2 3.5 2.9 3.5 3.5M481.3 855.8l3.5-1.5 2.1-.5 2.8-.2 2.8 .4 2.9 1 2.8 1.5 2.8 2.1 3.5 3.3M481.3 855.8l2.8-.7 2.1-.2 2.1 .1 2.1 .5 2.1 .8 2.9 1.5 2.1 1.6 2.8 2.4M481.3 855.8l3.5-.1 1.4 .2 2.1 .5 3.5 1.7 2.2 1.4 2.1 1.8M481.3 855.8l2.8 .3 2.8 1 2.8 1.6 3.5 2.7" stroke="#000" stroke-width="2.3" fill="none" stroke-linejoin="round"/>
<path d="M440.9 732.5l24.2 16.7 5.9 4.3 7.3 5.7 6.3 5.3 2.7 2.4 6 5.8 2.8 2.4 5.9 4.4 5.6 3.3 1.7 .8 .8 .2 1.8-.2 1.8-.5 1.6-.8 3-2.3 4.1-2" stroke="#ff0000" stroke-width="1.75" fill="none" stroke-linejoin="round" stroke-linecap="round"/><path d="M441 760.5l.9-.5 .9-.3 1.8-.1 .8 .3 3.7 3.1 .8 .5 .8 .1 .9-.1 1.8-.7 2.4-1.1 3.8-2.8 7.6-5.2 3.7-2.7 28.6-24.6 4.3-3.5 5.9-4.4 2.9-2.2 2.4-1.5 4-2.1 3.4-1.5" stroke="#ff0000" stroke-width="1.75" fill="none" stroke-linejoin="round" stroke-linecap="round"/><path d="M441 728.2l.8 .7 .8 .5 .8 .1 .8-.2 .9-.5 .8-.4 1.4-1.3 .8-.2 2.7 0 1.5 .6 1.5 1.1 3.7 3.3 7.3 5.4 5.7 4.5 21.7 18.1 12.8 10.2 5.4 3.5 3.2 1.7 2.6 1 1.7 .5 4.5 .8" stroke="#0000ff" stroke-width="1.75" fill="none" stroke-linejoin="round" stroke-linecap="round"/><path d="M441 756.3l2.6-.5 2.6-.8 4.2-1.6 4.8-2.6 5.2-3.4 5.1-3.7 6.4-5 28.1-23.7 4.4-3.3 3.8-2.4 3.2-1.5 .9-.3 .9-.1 1.7 .4 4.2 1.6 3.3 1.5" stroke="#0000ff" stroke-width="1.75" fill="none" stroke-linejoin="round" stroke-linecap="round"/><path d="M458.4 728.1V737.5" stroke="#0a3cff" stroke-width="2" fill="none"/><path d="M455.2 736.4L458.4 741.7L461.6 736.4z" fill="#0a3cff"/><path d="M458.4 764.9V755.1" stroke="#ff0000" stroke-width="2" fill="none"/><path d="M455.2 756.2L458.4 750.9L461.6 756.2z" fill="#ff0000"/><path d="M479.8 728.1V737.5" stroke="#0a3cff" stroke-width="2" fill="none"/><path d="M476.6 736.4L479.8 741.7L483 736.4z" fill="#0a3cff"/><path d="M479.8 764.9V755.1" stroke="#ff0000" stroke-width="2" fill="none"/><path d="M476.6 756.2L479.8 750.9L483 756.2z" fill="#ff0000"/>
</g>
<rect x="365.3" y="636.7" width="232.7" height="219.05" fill="none" stroke="#262626" stroke-width="1.8"/>
<path d="M423.48 855.75v-3.2M423.48 636.7v3.2M481.65 855.75v-3.2M481.65 636.7v3.2M539.83 855.75v-3.2M539.83 636.7v3.2M365.3 691.46h3.2M598 691.46h-3.2M365.3 746.23h3.2M598 746.23h-3.2M365.3 800.99h3.2M598 800.99h-3.2" stroke="#262626" stroke-width="1.5" fill="none"/>
<text x="357.7" y="642.7" font-size="16.5" text-anchor="end" font-family="'Liberation Serif', 'Times New Roman', serif" fill="#262626">1</text>
<text x="357.7" y="697.46" font-size="16.5" text-anchor="end" font-family="'Liberation Serif', 'Times New Roman', serif" fill="#262626">0.5</text>
<text x="357.7" y="752.23" font-size="16.5" text-anchor="end" font-family="'Liberation Serif', 'Times New Roman', serif" fill="#262626">0</text>
<text x="357.7" y="806.99" font-size="16.5" text-anchor="end" font-family="'Liberation Serif', 'Times New Roman', serif" fill="#262626">-0.5</text>
<text x="357.7" y="861.75" font-size="16.5" text-anchor="end" font-family="'Liberation Serif', 'Times New Roman', serif" fill="#262626">-1</text>
<text x="365" y="876.95" font-size="16.5" text-anchor="middle" font-family="'Liberation Serif', 'Times New Roman', serif" fill="#262626">0</text>
<text x="423.57" y="876.95" font-size="16.5" text-anchor="middle" font-family="'Liberation Serif', 'Times New Roman', serif" fill="#262626" letter-spacing="0.8">π/2</text>
<text x="481.35" y="876.95" font-size="16.5" text-anchor="middle" font-family="'Liberation Serif', 'Times New Roman', serif" fill="#262626">π</text>
<text x="539.93" y="876.95" font-size="16.5" text-anchor="middle" font-family="'Liberation Serif', 'Times New Roman', serif" fill="#262626" letter-spacing="0.8">3π/2</text>
<text x="598.1" y="876.95" font-size="16.5" text-anchor="middle" font-family="'Liberation Serif', 'Times New Roman', serif" fill="#262626" letter-spacing="0.8">2π</text>
<text x="164.3" y="900" font-size="18.8" text-anchor="middle" font-family="'DejaVu Serif', 'Liberation Serif', serif" fill="#000"><tspan font-style="italic">k</tspan><tspan font-style="italic" font-size="13.54" dy="4.4">x</tspan><tspan dy="-4.4">[</tspan><tspan font-style="italic">a</tspan><tspan font-size="13.54" dy="5">0</tspan><tspan font-size="13.54" dy="-12.6" dx="-8.2">−1</tspan><tspan dy="7.6">]</tspan></text>
<text x="483.6" y="899.6" font-size="18.8" text-anchor="middle" font-family="'DejaVu Serif', 'Liberation Serif', serif" fill="#000"><tspan font-style="italic">k</tspan><tspan font-style="italic" font-size="13.54" dy="4.4">x</tspan><tspan dy="-4.4">[</tspan><tspan font-style="italic">a</tspan><tspan font-size="13.54" dy="5">0</tspan><tspan font-size="13.54" dy="-12.6" dx="-8.2">−1</tspan><tspan dy="7.6">]</tspan></text>
<text transform="translate(24.8 751) rotate(-90)" font-size="20.3" text-anchor="middle" font-family="'DejaVu Serif', 'Liberation Serif', serif" font-style="italic" fill="#000" letter-spacing="0.4">E/t</text>
<text transform="translate(332.6 750.3) rotate(-90)" font-size="20.3" text-anchor="middle" font-family="'DejaVu Serif', 'Liberation Serif', serif" font-style="italic" fill="#000" letter-spacing="0.4">E/t</text>
<text x="54.8" y="627.2" font-size="26" text-anchor="start" font-family="'Liberation Serif', 'Times New Roman', serif" fill="#000">(e)</text>
<text x="369.2" y="627.5" font-size="26" text-anchor="start" font-family="'Liberation Serif', 'Times New Roman', serif" fill="#000">(f)</text>
<text x="244.6" y="755.7" font-size="20.6" text-anchor="middle" font-family="'Liberation Sans', Arial, Helvetica, sans-serif" fill="#000">QAH</text>
<text x="544.8" y="758.5" font-size="20.8" text-anchor="middle" font-family="'Liberation Sans', Arial, Helvetica, sans-serif" fill="#000">QSH</text>
</svg>
</body></html>
